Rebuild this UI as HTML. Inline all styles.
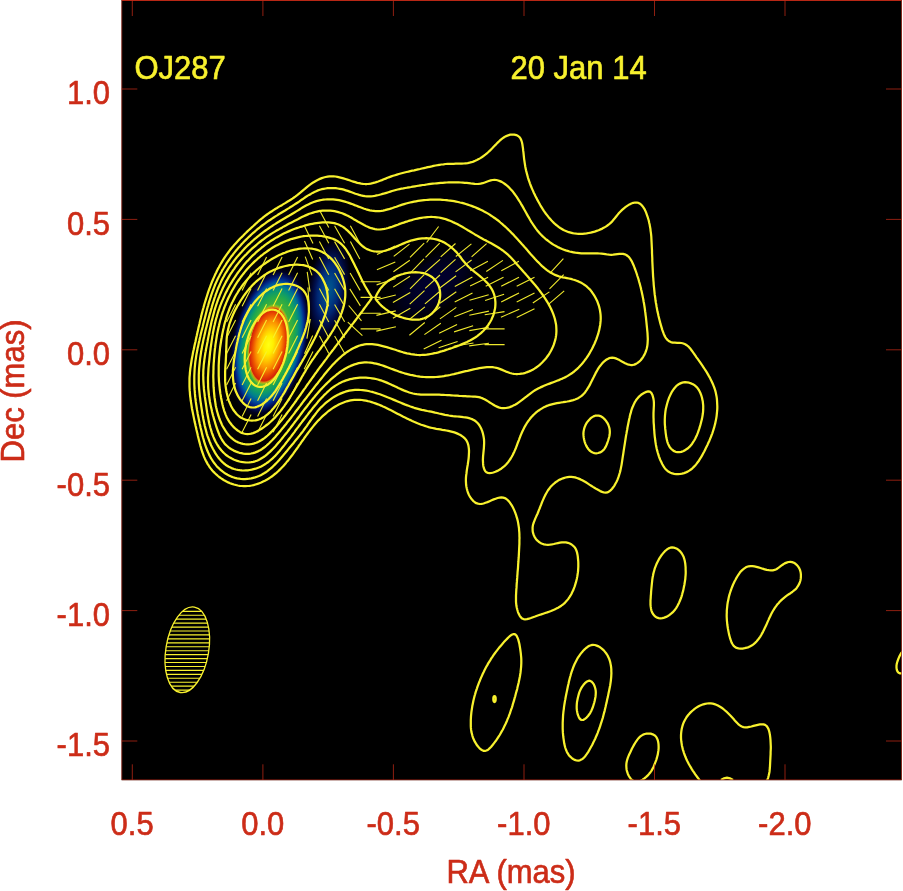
<!DOCTYPE html>
<html lang="en"><head><meta charset="utf-8"><title>OJ287 20 Jan 14</title>
<style>html,body{margin:0;padding:0;background:#fff}svg{display:block}text{font-family:"Liberation Sans",Arial,Helvetica,sans-serif;font-size:31px;stroke-width:0.6px;stroke-linejoin:round}</style></head><body>
<svg width="903" height="891" viewBox="0 0 903 891">
<defs>
<clipPath id="fr"><rect x="121.8" y="0" width="779.7" height="779.8"/></clipPath>
<radialGradient id="gco" gradientUnits="userSpaceOnUse" cx="0" cy="0" r="41">
<stop offset="0.507" stop-color="#3cb03c"/>
<stop offset="0.585" stop-color="#22a84c"/>
<stop offset="0.646" stop-color="#0c9a6c"/>
<stop offset="0.707" stop-color="#00808c"/>
<stop offset="0.756" stop-color="#005a9c"/>
<stop offset="0.805" stop-color="#002c8c"/>
<stop offset="0.854" stop-color="#000e58"/>
<stop offset="0.902" stop-color="#000020"/>
<stop offset="1.000" stop-color="#000000" stop-opacity="0"/>
</radialGradient>
<radialGradient id="gci" gradientUnits="userSpaceOnUse" cx="0" cy="0" r="41">
<stop offset="0.000" stop-color="#ffff14"/>
<stop offset="0.110" stop-color="#fff000"/>
<stop offset="0.195" stop-color="#ffc800"/>
<stop offset="0.293" stop-color="#fb9000"/>
<stop offset="0.378" stop-color="#ea4e00"/>
<stop offset="0.446" stop-color="#d42108"/>
<stop offset="0.463" stop-color="#d88c10"/>
<stop offset="0.483" stop-color="#86c020"/>
<stop offset="0.507" stop-color="#3cb03c"/>
<stop offset="0.527" stop-color="#3cb03c" stop-opacity="0"/>
</radialGradient>
<radialGradient id="gb" gradientUnits="userSpaceOnUse" cx="0" cy="0" r="22">
<stop offset="0.000" stop-color="#00588e"/>
<stop offset="0.159" stop-color="#004c8a"/>
<stop offset="0.318" stop-color="#003a82"/>
<stop offset="0.477" stop-color="#002672"/>
<stop offset="0.614" stop-color="#001252"/>
<stop offset="0.750" stop-color="#000630"/>
<stop offset="0.886" stop-color="#000010"/>
<stop offset="1.000" stop-color="#000000" stop-opacity="0"/>
</radialGradient>
<radialGradient id="gj" gradientUnits="userSpaceOnUse" cx="0" cy="0" r="30">
<stop offset="0.000" stop-color="#000030" stop-opacity="1"/>
<stop offset="0.333" stop-color="#00002a" stop-opacity="1"/>
<stop offset="0.667" stop-color="#000016" stop-opacity="1"/>
<stop offset="1.000" stop-color="#000000" stop-opacity="0"/>
</radialGradient>
</defs>
<rect x="0" y="0" width="903" height="891" fill="#fff"/>
<rect x="121.5" y="0" width="780.3" height="780.2" fill="#000"/>
<g clip-path="url(#fr)">
<g transform="translate(434,284) rotate(-36) scale(2.0,1.0)"><circle r="30" fill="url(#gj)"/></g>
<g transform="translate(328.5,290) rotate(8) scale(1.0,2.45)"><circle r="22" fill="url(#gb)"/></g>
<g transform="translate(269.8,342.3) rotate(11.5) scale(0.98,1.94)"><circle r="41" fill="url(#gco)"/></g>
<g transform="translate(268.6,344.8) rotate(10) scale(1,2.0)"><circle r="41" fill="url(#gci)"/></g>
<g stroke="#f8f12e" stroke-width="1.12" stroke-opacity="0.96" fill="none">
<path d="M226.6 322.1L235.6 304.2M226.6 337.8L235.6 320.0M226.6 353.5L235.6 335.7M226.6 369.3L235.6 351.4M226.6 385.0L235.6 367.2M226.6 400.7L235.6 382.9M242.1 290.6L251.1 272.8M242.1 306.3L251.1 288.5M242.1 322.1L251.1 304.2M242.1 337.8L251.1 320.0M242.1 353.5L251.1 335.7M242.1 369.3L251.1 351.4M242.1 385.0L251.1 367.2M242.1 400.7L251.1 382.9M242.1 416.5L251.1 398.6M242.1 432.2L251.1 414.4M257.6 274.9L266.6 257.1M257.6 290.6L266.6 272.8M257.6 306.3L266.6 288.5M257.6 322.1L266.6 304.2M257.6 337.8L266.6 320.0M257.6 353.5L266.6 335.7M257.6 369.3L266.6 351.4M257.6 385.0L266.6 367.2M257.6 400.7L266.6 382.9M257.6 416.5L266.6 398.6M257.6 432.2L266.6 414.4M273.1 274.9L282.1 257.1M273.1 290.6L282.1 272.8M273.1 306.3L282.1 288.5M273.1 322.1L282.1 304.2M273.1 337.8L282.1 320.0M273.1 353.5L282.1 335.7M273.1 369.3L282.1 351.4M273.1 385.0L282.1 367.2M273.1 400.7L282.1 382.9M273.1 416.5L282.1 398.6M273.1 432.2L282.1 414.4M288.6 274.9L297.6 257.1M288.6 290.6L297.6 272.8M288.6 306.3L297.6 288.5M288.6 322.1L297.6 304.2M288.6 337.8L297.6 320.0M288.6 353.5L297.6 335.7M288.6 369.3L297.6 351.4M288.6 385.0L297.6 367.2M288.6 400.7L297.6 382.9M313.0 243.5L304.2 225.5M312.7 259.4L304.5 241.1M312.0 275.4L305.2 256.6M310.0 291.6L307.2 271.8M309.3 307.4L307.9 287.5M308.9 323.2L308.3 303.2M306.9 338.7L310.3 319.0M304.5 353.8L312.7 335.5M304.2 369.3L313.0 351.4M328.8 227.6L319.4 210.0M328.8 243.3L319.4 225.7M328.8 259.1L319.4 241.4M328.8 274.8L319.4 257.1M328.8 290.5L319.4 272.9M328.8 306.3L319.4 288.6M328.8 322.0L319.4 304.3M328.8 337.7L319.4 320.1M328.8 353.4L319.4 335.8M344.6 243.2L334.6 225.8M344.6 258.9L334.6 241.6M344.6 274.6L334.6 257.3M344.6 290.4L334.6 273.0M344.6 306.1L334.6 288.8M344.6 321.8L334.6 304.5M344.6 337.6L334.6 320.2M344.6 353.3L334.6 336.0M359.8 243.3L350.4 225.7M359.8 259.1L350.4 241.4M359.9 274.7L350.3 257.2M360.1 290.4L350.1 273.0M360.4 305.9L349.8 288.9M361.5 320.8L348.7 305.5M362.4 335.7L347.8 322.1M360.6 281.7L380.6 281.7M360.6 297.4L380.6 297.4M360.6 313.2L380.6 313.2M360.6 328.9L380.6 328.9M426.6 242.5L438.6 226.5M377.0 254.5L395.2 246.0M393.7 256.4L409.5 244.1M410.0 257.3L424.2 243.2M425.5 257.3L439.7 243.2M440.7 256.9L455.5 243.5M455.8 256.5L471.4 243.9M471.6 256.8L486.6 243.7M376.9 269.8L395.3 262.1M393.4 271.7L409.8 260.2M410.2 273.2L424.0 258.8M425.1 272.5L440.1 259.4M440.7 272.7L455.5 259.3M455.6 271.9L471.6 260.0M470.3 270.7L487.9 261.3M486.3 271.5L502.9 260.4M501.3 270.7L518.9 261.3M549.8 273.3L563.4 258.7M376.6 284.9L395.6 278.5M393.2 287.1L410.0 276.3M410.0 288.8L424.2 274.6M425.2 288.4L440.0 275.0M440.1 287.7L456.1 275.7M454.8 286.4L472.4 277.0M470.1 286.1L488.1 277.3M485.7 286.2L503.5 277.2M501.2 286.2L519.0 277.2M516.7 286.2L534.5 277.2M549.5 288.8L563.7 274.6M376.4 299.8L395.8 295.0M392.9 302.4L410.3 292.4M409.7 304.1L424.5 290.7M424.9 303.9L440.3 291.0M439.9 303.2L456.3 291.7M454.7 301.9L472.5 293.0M469.5 300.2L488.7 294.7M485.1 300.5L504.1 294.3M501.2 301.9L519.0 293.0M516.7 301.9L534.5 293.0M532.8 303.0L549.4 291.9M549.0 303.9L564.2 290.9M376.4 315.4L395.8 310.9M392.9 318.2L410.3 308.2M409.3 319.5L424.9 306.9M424.9 319.6L440.3 306.7M439.9 318.9L456.3 307.4M454.3 316.8L472.9 309.5M469.3 315.2L488.9 311.1M484.7 314.7L504.5 311.6M500.9 317.2L519.3 309.2M516.7 317.6L534.5 308.7M376.3 331.1L395.9 326.7M409.4 335.3L424.8 322.5M424.4 334.6L440.8 323.2M439.1 333.2L457.1 324.6M454.1 331.9L473.1 325.8M469.3 330.6L488.9 327.2M484.6 328.9L504.6 328.9M423.7 349.1L441.5 340.2M438.6 347.7L457.6 341.5M453.7 346.3L473.5 343.0M469.2 345.9L489.0 343.3M484.6 344.6L504.6 344.6"/>
</g>
<g stroke="#f8f12e" stroke-width="2.25" fill="none" stroke-linejoin="round">
<path d="M270.2 212.3L271.9 211.2L273.5 210.1L275.2 209.0L277.0 208.0L278.7 206.9L280.4 205.9L282.2 204.9L283.9 203.9L285.6 202.9L287.3 201.8L289.0 200.8L290.7 199.7L292.4 198.6L294.0 197.5L295.6 196.4L297.2 195.2L298.8 193.9L300.3 192.7L301.8 191.4L303.3 190.1L304.8 188.9L306.3 187.6L307.8 186.3L309.4 185.1L311.1 183.9L312.7 182.8L314.5 181.7L316.2 180.7L318.1 179.7L319.9 178.9L321.8 178.1L323.7 177.5L325.6 177.0L327.6 176.6L329.5 176.4L331.5 176.3L333.5 176.3L335.4 176.5L337.4 176.9L339.4 177.3L341.4 177.8L343.4 178.4L345.4 179.0L347.4 179.6L349.4 180.3L351.4 181.0L353.3 181.6L355.3 182.2L357.3 182.8L359.2 183.2L361.2 183.6L363.1 183.9L365.0 184.0L366.9 184.0L368.8 183.9L370.7 183.6L372.6 183.2L374.5 182.7L376.3 182.1L378.2 181.5L380.1 180.8L381.9 180.1L383.8 179.3L385.6 178.6L387.5 177.8L389.4 177.1L391.3 176.4L393.1 175.8L395.0 175.2L396.9 174.6L398.8 174.0L400.7 173.5L402.6 173.0L404.5 172.5L406.5 172.0L408.4 171.6L410.3 171.1L412.2 170.7L414.2 170.3L416.1 169.8L418.1 169.4L420.0 169.0L421.9 168.5L423.9 168.1L425.8 167.7L427.8 167.2L429.7 166.8L431.7 166.4L433.6 165.9L435.6 165.5L437.6 165.2L439.6 164.8L441.5 164.5L443.5 164.3L445.5 164.0L447.6 163.9L449.6 163.8L451.6 163.8L453.7 163.8L455.7 163.7L457.7 163.7L459.8 163.7L461.8 163.7L463.8 163.5L465.7 163.3L467.7 163.1L469.6 162.7L471.5 162.2L473.3 161.6L475.2 160.8L476.9 160.0L478.7 159.1L480.4 158.1L482.1 157.0L483.7 155.8L485.3 154.6L486.9 153.3L488.4 152.0L489.9 150.6L491.3 149.2L492.7 147.8L494.1 146.3L495.5 144.9L496.8 143.5L498.2 142.1L499.7 140.7L501.2 139.4L502.8 138.2L504.5 137.0L506.3 136.1L508.2 135.3L510.2 134.7L512.2 134.5L514.3 134.6L516.3 135.1L518.1 136.0L519.5 137.2L520.6 138.7L521.4 140.5L522.0 142.5L522.4 144.5L522.7 146.6L523.0 148.7L523.2 150.7L523.5 152.8L523.7 154.8L523.9 156.8L524.1 158.8L524.4 160.8L524.7 162.8L525.0 164.8L525.3 166.7L525.7 168.7L526.1 170.6L526.6 172.5L527.1 174.4L527.6 176.2L528.1 178.1L528.7 180.0L529.4 181.8L530.0 183.6L530.7 185.5L531.4 187.3L532.2 189.1L533.0 190.9L533.8 192.7L534.7 194.5L535.5 196.3L536.5 198.1L537.4 199.9L538.4 201.7L539.4 203.5L540.4 205.3L541.5 207.1L542.6 208.9L543.7 210.6L544.9 212.3L546.1 214.0L547.4 215.6L548.6 217.2L550.0 218.8L551.3 220.3L552.7 221.7L554.1 223.1L555.6 224.5L557.1 225.7L558.6 226.9L560.2 228.0L561.9 229.0L563.5 230.0L565.3 230.8L567.0 231.5L568.8 232.2L570.7 232.7L572.6 233.2L574.5 233.5L576.5 233.7L578.5 233.8L580.5 233.8L582.5 233.8L584.6 233.6L586.6 233.4L588.7 233.0L590.7 232.6L592.7 232.1L594.7 231.6L596.7 230.9L598.6 230.2L600.5 229.4L602.3 228.6L604.1 227.6L605.8 226.6L607.4 225.5L608.9 224.4L610.4 223.2L611.7 221.9L612.9 220.5L614.1 219.1L615.2 217.7L616.4 216.2L617.7 214.6L619.0 213.0L620.5 211.5L622.1 209.9L623.9 208.3L625.7 206.9L627.6 205.6L629.5 204.4L631.4 203.5L633.3 202.8L635.1 202.5L636.8 202.5L638.4 202.9L639.8 203.6L641.1 204.6L642.3 205.9L643.4 207.4L644.5 209.1L645.4 210.9L646.2 212.9L646.9 214.8L647.6 216.8L648.2 218.8L648.8 220.8L649.2 222.8L649.7 224.8L650.0 226.8L650.4 228.8L650.6 230.8L650.9 232.8L651.1 234.7L651.3 236.7L651.4 238.7L651.5 240.7L651.6 242.7L651.7 244.7L651.8 246.7L651.9 248.7L652.0 250.7L652.0 252.7L652.1 254.7L652.2 256.7L652.3 258.7L652.3 260.7L652.4 262.7L652.5 264.7L652.6 266.7L652.7 268.6L652.8 270.6L652.9 272.6L653.0 274.6L653.1 276.6L653.3 278.5L653.4 280.5L653.6 282.5L653.7 284.5L653.9 286.5L654.1 288.4L654.3 290.4L654.5 292.4L654.7 294.4L655.0 296.3L655.3 298.3L655.5 300.3L655.8 302.2L656.2 304.2L656.5 306.2L656.9 308.2L657.2 310.1L657.6 312.1L658.1 314.1L658.5 316.0L659.0 318.0L659.5 320.0L660.0 321.9L660.5 323.9L661.1 325.9L661.7 327.9L662.3 329.8L663.0 331.8L663.7 333.7L664.5 335.6L665.4 337.3L666.5 338.8L667.7 340.2L669.2 341.3L670.8 342.1L672.7 342.6L674.9 342.7L677.1 342.8L679.3 342.8L681.5 343.0L683.4 343.5L685.2 344.2L686.7 345.2L688.2 346.3L689.5 347.7L690.7 349.1L691.9 350.7L693.1 352.3L694.2 354.0L695.4 355.6L696.5 357.3L697.7 358.9L698.9 360.6L700.0 362.2L701.2 363.9L702.4 365.6L703.5 367.3L704.6 369.0L705.7 370.7L706.8 372.4L707.8 374.1L708.8 375.9L709.8 377.6L710.7 379.4L711.6 381.2L712.4 383.0L713.2 384.8L713.9 386.6L714.6 388.5L715.2 390.4L715.7 392.3L716.1 394.2L716.5 396.2L716.8 398.2L717.0 400.1L717.1 402.1L717.2 404.1L717.3 406.1L717.3 408.1L717.2 410.1L717.0 412.1L716.8 414.1L716.6 416.1L716.3 418.1L715.9 420.1L715.5 422.0L715.1 423.9L714.6 425.8L714.1 427.7L713.5 429.6L712.9 431.5L712.3 433.3L711.6 435.2L710.9 437.0L710.1 438.9L709.4 440.7L708.5 442.5L707.7 444.4L706.8 446.2L705.9 448.0L705.0 449.9L704.1 451.7L703.1 453.5L702.1 455.4L701.1 457.2L700.0 458.9L698.9 460.7L697.7 462.3L696.5 463.9L695.2 465.5L693.8 466.9L692.4 468.3L690.9 469.5L689.3 470.6L687.7 471.6L685.9 472.4L684.1 473.1L682.1 473.6L680.2 474.0L678.2 474.1L676.2 474.1L674.2 473.8L672.3 473.4L670.5 472.7L668.7 471.8L667.2 470.6L665.7 469.2L664.4 467.6L663.3 465.9L662.2 464.0L661.3 462.1L660.4 460.2L659.6 458.3L658.9 456.3L658.3 454.4L657.7 452.5L657.2 450.6L656.7 448.7L656.3 446.7L655.9 444.8L655.6 442.9L655.3 441.0L655.1 439.0L654.8 437.1L654.6 435.1L654.4 433.1L654.3 431.2L654.1 429.2L654.0 427.2L653.9 425.1L653.7 423.1L653.6 421.1L653.6 419.1L653.5 417.1L653.5 415.1L653.5 413.1L653.6 411.1L653.7 409.1L653.8 407.2L653.9 405.2L653.9 403.3L653.8 401.2L653.5 399.1L653.0 396.9L652.3 394.7L651.3 392.8L649.9 391.6L648.2 391.4L646.3 391.9L644.4 392.7L642.7 393.7L641.1 394.8L639.6 396.1L638.3 397.4L637.0 398.9L635.9 400.5L634.9 402.1L634.0 403.9L633.2 405.7L632.4 407.5L631.7 409.4L631.1 411.4L630.6 413.4L630.0 415.4L629.6 417.4L629.1 419.5L628.7 421.5L628.3 423.5L627.9 425.5L627.5 427.5L627.2 429.5L626.8 431.5L626.5 433.4L626.1 435.4L625.8 437.3L625.5 439.2L625.2 441.2L624.9 443.1L624.6 445.0L624.3 446.9L624.0 448.9L623.7 450.8L623.4 452.8L623.1 454.7L622.8 456.7L622.5 458.6L622.2 460.6L621.9 462.6L621.6 464.6L621.2 466.6L620.8 468.6L620.4 470.6L619.9 472.5L619.3 474.5L618.7 476.4L618.0 478.3L617.3 480.2L616.4 482.0L615.4 483.8L614.4 485.6L613.2 487.3L611.9 489.0L610.5 490.4L609.0 491.6L607.4 492.4L605.7 492.7L603.9 492.5L602.1 491.9L600.2 491.1L598.4 490.1L596.6 489.1L594.8 488.0L593.0 486.9L591.2 485.7L589.4 484.6L587.6 483.4L585.9 482.3L584.1 481.3L582.3 480.3L580.5 479.4L578.7 478.6L576.9 478.0L575.1 477.4L573.2 477.1L571.3 476.9L569.4 476.9L567.5 477.1L565.6 477.5L563.6 478.1L561.8 478.8L559.9 479.6L558.1 480.6L556.4 481.7L554.7 483.0L553.2 484.3L551.7 485.7L550.4 487.1L549.2 488.7L548.0 490.3L547.0 492.0L546.0 493.7L545.1 495.4L544.2 497.2L543.4 499.1L542.6 500.9L541.8 502.8L541.1 504.7L540.3 506.6L539.6 508.5L538.8 510.4L538.1 512.3L537.3 514.2L536.4 516.1L535.6 517.9L534.8 519.8L534.1 521.6L533.4 523.5L532.9 525.3L532.6 527.3L532.6 529.2L532.7 531.2L533.1 533.2L533.8 535.2L534.7 537.1L535.9 538.9L537.2 540.4L538.7 541.8L540.4 542.9L542.2 543.8L544.0 544.4L545.9 544.7L547.9 544.8L549.8 544.7L551.8 544.4L553.8 544.0L555.9 543.5L557.9 543.1L559.9 542.7L561.9 542.4L563.9 542.3L565.9 542.4L567.9 542.8L569.8 543.5L571.6 544.5L573.2 545.8L574.6 547.2L575.7 548.9L576.5 550.8L577.1 552.7L577.5 554.7L577.8 556.7L578.0 558.8L578.2 560.8L578.3 562.7L578.3 564.7L578.3 566.6L578.2 568.5L578.1 570.5L577.9 572.4L577.6 574.4L577.3 576.4L576.9 578.4L576.4 580.4L575.9 582.4L575.3 584.4L574.7 586.4L573.9 588.4L573.2 590.3L572.3 592.1L571.4 594.0L570.4 595.7L569.3 597.4L568.1 599.1L566.9 600.6L565.6 602.0L564.3 603.4L562.8 604.6L561.3 605.7L559.7 606.8L558.1 607.7L556.4 608.6L554.6 609.5L552.8 610.2L551.0 611.0L549.1 611.7L547.2 612.4L545.2 613.0L543.2 613.7L541.2 614.4L539.2 615.0L537.1 615.7L535.1 616.5L533.0 617.2L530.9 618.0L528.9 618.7L527.0 619.2L525.1 619.3L523.5 619.1L522.0 618.4L520.7 617.2L519.6 615.6L518.7 613.8L517.9 611.8L517.3 609.8L516.8 607.8L516.4 605.8L516.2 603.8L516.0 601.8L516.0 599.8L516.0 597.9L516.0 595.9L516.1 593.9L516.2 591.9L516.3 589.9L516.5 587.9L516.6 585.9L516.7 583.9L516.9 581.9L517.0 579.9L517.2 577.9L517.3 575.9L517.5 573.8L517.6 571.8L517.8 569.8L518.0 567.8L518.1 565.8L518.2 563.8L518.4 561.7L518.5 559.7L518.7 557.7L518.8 555.7L518.9 553.7L519.0 551.7L519.1 549.8L519.2 547.8L519.3 545.8L519.4 543.9L519.4 541.9L519.4 540.0L519.5 538.0L519.4 536.1L519.4 534.1L519.3 532.2L519.1 530.3L519.0 528.4L518.7 526.4L518.4 524.5L518.1 522.6L517.7 520.6L517.2 518.7L516.6 516.8L516.0 514.8L515.3 512.9L514.5 510.9L513.6 508.9L512.7 507.0L511.6 505.1L510.4 503.3L509.2 501.6L507.8 500.2L506.4 499.0L504.8 498.1L503.2 497.6L501.4 497.4L499.6 497.6L497.6 498.0L495.7 498.7L493.7 499.4L491.6 500.3L489.6 501.2L487.5 502.1L485.5 502.8L483.6 503.5L481.6 503.8L479.8 504.0L478.0 503.7L476.3 503.2L474.8 502.2L473.3 501.1L472.0 499.6L470.8 498.0L469.7 496.3L468.7 494.4L467.9 492.5L467.3 490.5L466.8 488.6L466.4 486.7L466.1 484.8L466.0 482.9L465.9 481.0L465.9 479.1L466.0 477.1L466.2 475.2L466.5 473.2L466.7 471.2L467.0 469.2L467.3 467.1L467.7 465.0L468.0 462.9L468.3 460.8L468.6 458.6L468.8 456.4L468.9 454.3L469.0 452.2L469.0 450.1L468.8 448.1L468.5 446.1L468.1 444.3L467.5 442.5L466.7 440.9L465.7 439.4L464.5 438.1L463.1 436.9L461.6 435.8L459.9 434.8L458.1 433.9L456.3 433.1L454.4 432.4L452.4 431.8L450.4 431.3L448.4 430.9L446.4 430.5L444.3 430.1L442.3 429.8L440.3 429.4L438.3 429.1L436.3 428.8L434.3 428.4L432.4 428.0L430.5 427.6L428.6 427.1L426.7 426.5L424.8 425.9L423.0 425.3L421.2 424.7L419.3 424.0L417.5 423.3L415.7 422.5L414.0 421.8L412.2 421.0L410.4 420.1L408.6 419.3L406.8 418.4L405.1 417.6L403.3 416.7L401.5 415.7L399.7 414.8L397.9 413.9L396.0 412.9L394.2 412.0L392.4 411.0L390.5 410.1L388.7 409.2L386.8 408.2L384.9 407.3L383.0 406.5L381.1 405.6L379.2 404.8L377.3 404.1L375.4 403.4L373.5 402.7L371.6 402.1L369.7 401.5L367.8 401.1L365.9 400.6L363.9 400.3L362.0 400.0L360.1 399.9L358.2 399.8L356.3 399.8L354.3 399.9L352.4 400.1L350.5 400.4L348.6 400.8L346.7 401.3L344.8 402.0L343.0 402.7L341.1 403.5L339.3 404.3L337.5 405.3L335.7 406.2L334.0 407.3L332.3 408.4L330.6 409.6L329.0 410.7L327.4 412.0L325.9 413.3L324.4 414.6L322.9 415.9L321.5 417.3L320.1 418.7L318.7 420.1L317.3 421.6L316.0 423.0L314.7 424.5L313.4 426.1L312.2 427.6L310.9 429.2L309.7 430.8L308.5 432.4L307.3 434.0L306.1 435.6L304.9 437.2L303.8 438.9L302.6 440.5L301.4 442.1L300.3 443.8L299.1 445.4L298.0 447.1L296.8 448.7L295.6 450.3L294.5 451.9L293.3 453.6L292.1 455.2L290.9 456.7L289.7 458.3L288.5 459.9L287.2 461.4L286.0 462.9L284.7 464.4L283.4 465.9L282.1 467.3L280.7 468.7L279.3 470.1L277.9 471.5L276.4 472.8L274.9 474.0L273.3 475.3L271.8 476.5L270.1 477.6L268.4 478.7L266.7 479.7L264.9 480.7L263.1 481.6L261.2 482.5L259.4 483.2L257.5 483.9L255.5 484.5L253.6 485.1L251.6 485.5L249.6 485.8L247.7 486.0L245.7 486.1L243.7 486.1L241.7 486.0L239.7 485.8L237.8 485.5L235.8 485.0L233.9 484.5L232.0 483.9L230.1 483.2L228.2 482.4L226.4 481.5L224.6 480.6L222.9 479.5L221.2 478.4L219.6 477.3L218.0 476.0L216.5 474.7L215.0 473.3L213.6 471.9L212.3 470.5L211.0 468.9L209.8 467.4L208.8 465.7L207.7 464.1L206.8 462.4L205.9 460.7L205.0 458.9L204.2 457.1L203.5 455.3L202.8 453.4L202.1 451.5L201.5 449.7L201.0 447.7L200.4 445.8L199.9 443.8L199.4 441.9L198.9 439.9L198.4 437.9L197.9 436.0L197.5 434.0L197.0 432.0L196.5 430.0L196.1 428.0L195.6 426.0L195.2 424.0L194.7 422.1L194.3 420.1L193.9 418.1L193.5 416.1L193.1 414.1L192.7 412.1L192.3 410.2L191.9 408.2L191.6 406.2L191.3 404.2L191.0 402.2L190.7 400.3L190.5 398.3L190.2 396.3L190.0 394.3L189.9 392.4L189.7 390.4L189.6 388.4L189.5 386.5L189.5 384.5L189.5 382.5L189.5 380.6L189.5 378.6L189.6 376.6L189.8 374.7L189.9 372.7L190.1 370.8L190.3 368.8L190.6 366.9L190.9 364.9L191.2 363.0L191.5 361.0L191.8 359.0L192.2 357.1L192.6 355.1L192.9 353.2L193.3 351.2L193.8 349.3L194.2 347.3L194.6 345.3L195.0 343.4L195.5 341.4L195.9 339.5L196.3 337.5L196.8 335.5L197.2 333.6L197.7 331.6L198.1 329.6L198.5 327.6L199.0 325.7L199.5 323.7L199.9 321.7L200.4 319.8L200.9 317.8L201.3 315.8L201.8 313.9L202.3 311.9L202.8 310.0L203.4 308.0L203.9 306.1L204.4 304.2L205.0 302.2L205.6 300.3L206.2 298.4L206.8 296.5L207.4 294.6L208.0 292.7L208.6 290.8L209.3 288.9L210.0 287.1L210.7 285.2L211.4 283.3L212.1 281.5L212.9 279.7L213.7 277.9L214.5 276.1L215.3 274.3L216.2 272.5L217.0 270.7L217.9 268.9L218.9 267.2L219.8 265.5L220.8 263.8L221.8 262.1L222.8 260.4L223.9 258.7L224.9 257.1L226.1 255.4L227.2 253.8L228.4 252.2L229.6 250.6L230.8 249.0L232.1 247.5L233.4 246.0L234.7 244.4L236.1 242.9L237.4 241.5L238.8 240.0L240.2 238.5L241.7 237.1L243.1 235.7L244.5 234.2L246.0 232.8L247.4 231.4L248.9 230.0L250.4 228.7L251.8 227.3L253.3 226.0L254.8 224.6L256.2 223.3L257.7 222.0L259.2 220.7L260.7 219.4L262.3 218.2L263.8 216.9L265.4 215.7L267.0 214.5L268.6 213.4Z"/>
<path d="M270.4 219.7L272.0 218.6L273.7 217.5L275.4 216.4L277.1 215.4L278.7 214.3L280.4 213.3L282.1 212.2L283.8 211.2L285.5 210.2L287.2 209.1L288.9 208.1L290.6 207.0L292.3 206.0L294.0 204.9L295.7 203.8L297.4 202.7L299.1 201.6L300.7 200.4L302.4 199.3L304.1 198.1L305.7 197.0L307.4 195.9L309.1 194.9L310.9 193.9L312.6 192.9L314.4 192.0L316.2 191.2L318.0 190.4L319.8 189.8L321.7 189.2L323.7 188.8L325.6 188.5L327.6 188.2L329.6 188.1L331.7 188.0L333.7 188.1L335.8 188.2L337.8 188.5L339.8 188.8L341.8 189.2L343.8 189.7L345.8 190.3L347.8 190.9L349.7 191.6L351.6 192.3L353.5 193.0L355.4 193.7L357.3 194.3L359.2 194.9L361.1 195.4L363.0 195.8L365.0 196.2L366.9 196.3L368.8 196.4L370.8 196.3L372.8 196.1L374.7 195.8L376.7 195.4L378.7 195.0L380.6 194.5L382.6 193.9L384.5 193.4L386.5 192.8L388.4 192.2L390.3 191.6L392.1 191.0L394.0 190.5L395.8 190.0L397.7 189.5L399.6 189.1L401.4 188.7L403.3 188.4L405.2 188.0L407.1 187.7L409.1 187.3L411.0 187.0L412.9 186.6L414.9 186.3L416.8 186.0L418.8 185.7L420.8 185.3L422.7 185.0L424.7 184.8L426.7 184.5L428.7 184.2L430.7 183.9L432.7 183.7L434.7 183.5L436.7 183.3L438.7 183.1L440.7 182.9L442.7 182.8L444.7 182.6L446.7 182.5L448.7 182.4L450.8 182.4L452.8 182.4L454.8 182.4L456.8 182.4L458.8 182.4L460.8 182.5L462.8 182.6L464.8 182.8L466.8 182.9L468.7 183.1L470.7 183.4L472.7 183.6L474.7 183.9L476.7 184.0L478.6 183.9L480.6 183.7L482.7 183.2L484.7 182.5L486.7 181.7L488.7 181.0L490.7 180.4L492.6 180.0L494.5 179.9L496.4 180.0L498.2 180.5L499.9 181.1L501.7 181.9L503.3 182.9L504.9 184.0L506.4 185.2L507.9 186.4L509.3 187.8L510.6 189.2L511.9 190.6L513.2 192.1L514.4 193.7L515.6 195.3L516.7 196.9L517.8 198.6L518.9 200.3L520.0 202.0L521.0 203.8L522.1 205.6L523.1 207.4L524.1 209.2L525.1 211.0L526.1 212.8L527.1 214.6L528.1 216.4L529.2 218.2L530.2 220.0L531.3 221.8L532.4 223.5L533.5 225.2L534.7 226.9L535.9 228.6L537.1 230.2L538.4 231.7L539.7 233.2L541.1 234.7L542.5 236.1L544.0 237.5L545.4 238.8L547.0 240.0L548.5 241.2L550.1 242.4L551.7 243.5L553.4 244.6L555.1 245.6L556.8 246.5L558.5 247.4L560.3 248.2L562.1 249.0L563.9 249.7L565.8 250.4L567.6 250.9L569.5 251.5L571.4 251.9L573.4 252.3L575.3 252.7L577.3 252.9L579.3 253.1L581.3 253.3L583.4 253.3L585.4 253.4L587.4 253.4L589.5 253.4L591.5 253.3L593.5 253.3L595.6 253.3L597.6 253.4L599.5 253.5L601.5 253.7L603.5 253.9L605.4 254.2L607.3 254.5L609.2 254.7L611.2 254.8L613.2 254.7L615.3 254.4L617.3 254.1L619.3 253.9L621.3 253.8L623.1 253.9L624.8 254.3L626.3 255.0L627.7 256.0L629.0 257.2L630.1 258.7L631.2 260.3L632.1 262.1L633.0 264.0L633.9 266.0L634.6 268.0L635.4 270.0L636.1 272.0L636.8 274.0L637.4 276.0L638.1 278.0L638.7 280.0L639.2 282.0L639.8 283.9L640.3 285.9L640.8 287.8L641.2 289.8L641.7 291.8L642.1 293.7L642.5 295.6L642.9 297.6L643.3 299.5L643.6 301.5L644.0 303.4L644.3 305.4L644.6 307.3L644.9 309.3L645.1 311.2L645.4 313.2L645.6 315.1L645.9 317.1L646.1 319.1L646.3 321.0L646.5 323.0L646.7 325.0L646.9 327.0L647.1 329.0L647.3 331.0L647.5 333.0L647.6 335.0L647.7 337.0L647.8 339.1L647.7 341.1L647.6 343.1L647.4 345.1L647.1 347.1L646.6 349.1L646.0 351.0L645.2 353.0L644.3 354.9L643.2 356.8L642.0 358.5L640.7 360.2L639.2 361.6L637.6 362.9L636.0 363.9L634.3 364.6L632.5 365.0L630.7 365.0L628.9 364.7L627.0 364.1L625.1 363.2L623.3 362.2L621.4 361.2L619.5 360.1L617.7 359.2L615.8 358.4L614.0 357.9L612.2 357.7L610.4 357.8L608.7 358.4L607.1 359.2L605.5 360.3L603.9 361.6L602.5 363.0L601.2 364.6L599.9 366.2L598.7 367.9L597.6 369.7L596.5 371.6L595.5 373.4L594.5 375.4L593.6 377.3L592.6 379.2L591.7 381.1L590.7 383.0L589.8 384.9L588.8 386.7L587.7 388.4L586.6 390.1L585.5 391.7L584.3 393.2L583.0 394.6L581.6 395.8L580.1 396.9L578.6 397.9L576.9 398.8L575.1 399.5L573.2 400.1L571.3 400.6L569.3 401.1L567.3 401.5L565.2 401.8L563.2 402.2L561.1 402.5L559.0 402.8L556.9 403.2L554.8 403.6L552.7 404.1L550.8 404.6L548.8 405.2L546.9 405.9L545.1 406.7L543.3 407.6L541.6 408.6L540.0 409.6L538.4 410.7L536.8 411.9L535.3 413.2L533.9 414.5L532.5 415.9L531.2 417.3L530.0 418.8L528.8 420.4L527.6 422.0L526.5 423.7L525.5 425.4L524.5 427.1L523.6 428.9L522.7 430.7L521.9 432.5L521.1 434.4L520.3 436.3L519.6 438.2L518.9 440.1L518.1 442.0L517.4 443.9L516.7 445.8L516.0 447.7L515.2 449.6L514.4 451.4L513.5 453.2L512.7 455.0L511.7 456.8L510.7 458.5L509.6 460.1L508.5 461.7L507.2 463.2L505.9 464.7L504.4 466.1L502.8 467.4L501.2 468.7L499.4 469.8L497.4 470.9L495.4 471.8L493.4 472.5L491.4 473.0L489.6 473.1L487.9 472.9L486.4 472.3L485.3 471.2L484.4 469.7L483.8 467.9L483.3 465.9L483.1 463.9L483.0 461.9L482.9 459.9L483.0 457.9L483.1 455.9L483.3 453.8L483.5 451.8L483.7 449.8L483.9 447.8L484.0 445.7L484.1 443.6L484.1 441.5L484.0 439.4L483.7 437.3L483.3 435.2L482.8 433.1L482.2 431.1L481.4 429.1L480.5 427.3L479.5 425.5L478.4 423.9L477.1 422.5L475.7 421.3L474.2 420.3L472.6 419.4L470.9 418.7L469.1 418.1L467.2 417.7L465.3 417.3L463.3 417.1L461.3 416.8L459.2 416.6L457.1 416.5L455.1 416.3L453.0 416.1L450.9 415.8L448.9 415.5L446.9 415.1L444.9 414.8L442.9 414.3L440.9 413.9L439.0 413.5L437.0 413.0L435.1 412.6L433.1 412.1L431.2 411.7L429.3 411.3L427.4 411.0L425.5 410.6L423.6 410.2L421.7 409.8L419.8 409.3L418.0 408.8L416.1 408.3L414.2 407.8L412.3 407.1L410.4 406.5L408.5 405.8L406.6 405.1L404.7 404.4L402.8 403.6L400.9 402.8L399.0 402.0L397.1 401.2L395.2 400.4L393.3 399.6L391.4 398.8L389.4 398.0L387.5 397.3L385.6 396.5L383.7 395.7L381.8 395.0L379.9 394.3L378.0 393.7L376.1 393.1L374.1 392.5L372.2 391.9L370.3 391.5L368.4 391.0L366.5 390.7L364.6 390.4L362.7 390.1L360.7 390.0L358.8 389.9L356.9 389.9L355.0 389.9L353.1 390.1L351.2 390.4L349.2 390.7L347.3 391.2L345.4 391.7L343.5 392.4L341.6 393.1L339.7 393.9L337.9 394.8L336.1 395.8L334.3 396.8L332.5 397.9L330.8 399.1L329.1 400.3L327.4 401.6L325.8 402.9L324.3 404.3L322.8 405.7L321.3 407.1L319.9 408.6L318.6 410.1L317.3 411.6L316.1 413.1L314.9 414.7L313.7 416.2L312.5 417.8L311.4 419.4L310.2 421.0L309.1 422.6L308.0 424.2L306.9 425.8L305.7 427.4L304.5 429.0L303.4 430.6L302.2 432.2L300.9 433.8L299.7 435.4L298.5 436.9L297.2 438.5L295.9 440.0L294.6 441.6L293.4 443.2L292.1 444.7L290.8 446.3L289.5 447.8L288.2 449.4L286.9 451.0L285.6 452.5L284.3 454.1L282.9 455.7L281.6 457.2L280.3 458.7L279.0 460.3L277.6 461.8L276.2 463.2L274.8 464.6L273.4 466.0L272.0 467.4L270.5 468.7L268.9 469.9L267.4 471.1L265.8 472.2L264.1 473.3L262.4 474.3L260.7 475.2L258.9 476.0L257.0 476.7L255.1 477.4L253.2 477.9L251.2 478.4L249.2 478.7L247.2 478.9L245.1 479.1L243.1 479.1L241.1 479.0L239.1 478.7L237.1 478.4L235.1 477.9L233.2 477.3L231.3 476.6L229.4 475.7L227.6 474.8L225.8 473.8L224.1 472.6L222.5 471.4L220.9 470.1L219.4 468.8L217.9 467.4L216.5 465.9L215.3 464.4L214.0 462.8L212.9 461.2L211.8 459.5L210.8 457.9L209.9 456.1L209.0 454.4L208.2 452.6L207.4 450.8L206.7 449.0L206.0 447.1L205.3 445.2L204.7 443.3L204.1 441.4L203.6 439.5L203.0 437.5L202.5 435.6L202.0 433.6L201.6 431.6L201.1 429.7L200.6 427.7L200.2 425.7L199.7 423.8L199.3 421.8L198.9 419.8L198.5 417.8L198.1 415.8L197.7 413.9L197.4 411.9L197.0 409.9L196.7 407.9L196.4 405.9L196.1 403.9L195.8 401.9L195.6 399.9L195.3 397.9L195.1 395.9L194.9 393.9L194.8 391.9L194.6 389.9L194.5 388.0L194.4 386.0L194.3 384.0L194.3 382.0L194.3 380.0L194.3 378.0L194.3 376.0L194.4 374.0L194.5 372.0L194.6 370.0L194.7 368.1L194.9 366.1L195.1 364.1L195.3 362.1L195.6 360.1L195.9 358.2L196.2 356.2L196.5 354.2L196.9 352.3L197.3 350.3L197.6 348.3L198.1 346.4L198.5 344.4L198.9 342.4L199.4 340.5L199.8 338.5L200.3 336.5L200.7 334.6L201.2 332.6L201.7 330.6L202.2 328.7L202.7 326.7L203.1 324.8L203.6 322.8L204.1 320.8L204.6 318.9L205.1 316.9L205.6 315.0L206.1 313.0L206.6 311.1L207.1 309.1L207.6 307.2L208.2 305.3L208.7 303.3L209.3 301.4L209.9 299.5L210.5 297.6L211.1 295.7L211.7 293.8L212.4 291.9L213.1 290.0L213.8 288.2L214.5 286.3L215.2 284.5L216.0 282.7L216.9 280.8L217.7 279.0L218.6 277.2L219.5 275.5L220.4 273.7L221.4 272.0L222.3 270.2L223.4 268.5L224.4 266.8L225.5 265.1L226.5 263.4L227.7 261.7L228.8 260.1L230.0 258.4L231.1 256.8L232.4 255.2L233.6 253.6L234.8 252.1L236.1 250.5L237.4 249.0L238.7 247.4L240.1 245.9L241.4 244.4L242.8 243.0L244.2 241.5L245.6 240.1L247.0 238.7L248.5 237.3L250.0 235.9L251.4 234.5L252.9 233.2L254.5 231.8L256.0 230.5L257.5 229.2L259.1 228.0L260.7 226.7L262.2 225.5L263.8 224.3L265.5 223.1L267.1 221.9L268.7 220.8Z"/>
<path d="M270.4 227.1L272.1 226.0L273.7 224.9L275.4 223.9L277.1 222.8L278.8 221.8L280.4 220.8L282.1 219.8L283.8 218.8L285.5 217.8L287.2 216.8L289.0 215.8L290.7 214.8L292.4 213.7L294.1 212.7L295.9 211.6L297.6 210.6L299.4 209.5L301.1 208.4L302.9 207.3L304.7 206.3L306.5 205.3L308.3 204.4L310.1 203.5L311.9 202.7L313.8 202.0L315.7 201.4L317.5 200.8L319.5 200.4L321.4 200.0L323.3 199.7L325.2 199.5L327.2 199.4L329.2 199.3L331.1 199.3L333.1 199.4L335.1 199.6L337.0 199.9L339.0 200.2L341.0 200.6L342.9 201.1L344.9 201.6L346.8 202.2L348.8 202.9L350.7 203.6L352.7 204.3L354.6 205.1L356.5 205.8L358.5 206.6L360.4 207.3L362.3 208.0L364.2 208.7L366.1 209.3L368.0 209.8L369.9 210.3L371.8 210.7L373.7 210.9L375.6 211.1L377.5 211.2L379.4 211.1L381.3 210.9L383.2 210.6L385.0 210.2L386.9 209.7L388.8 209.2L390.7 208.6L392.6 208.0L394.5 207.3L396.4 206.7L398.3 206.0L400.2 205.3L402.2 204.7L404.1 204.1L406.1 203.5L408.0 203.0L410.0 202.5L412.0 202.1L414.0 201.7L416.0 201.3L418.0 200.9L420.0 200.6L422.0 200.4L424.0 200.2L426.0 200.0L428.0 199.8L430.1 199.7L432.1 199.6L434.1 199.6L436.1 199.6L438.1 199.6L440.2 199.7L442.2 199.8L444.2 200.0L446.2 200.1L448.2 200.4L450.2 200.6L452.2 200.9L454.1 201.2L456.1 201.6L458.1 202.0L460.0 202.5L462.0 202.9L463.9 203.4L465.8 204.0L467.7 204.6L469.6 205.2L471.5 205.9L473.3 206.6L475.2 207.3L477.0 208.1L478.8 208.9L480.6 209.7L482.4 210.6L484.1 211.5L485.9 212.4L487.6 213.4L489.3 214.4L490.9 215.5L492.6 216.6L494.2 217.7L495.8 218.8L497.4 220.0L498.9 221.2L500.4 222.5L502.0 223.8L503.4 225.1L504.9 226.4L506.4 227.8L507.8 229.1L509.2 230.5L510.7 231.9L512.1 233.4L513.5 234.8L514.8 236.3L516.2 237.8L517.6 239.3L518.9 240.7L520.3 242.3L521.6 243.8L523.0 245.3L524.3 246.8L525.7 248.3L527.0 249.8L528.4 251.4L529.7 252.9L531.0 254.4L532.4 255.9L533.8 257.4L535.1 258.9L536.5 260.4L537.9 261.9L539.3 263.3L540.7 264.7L542.1 266.1L543.6 267.4L545.1 268.7L546.6 269.9L548.2 271.0L549.9 272.1L551.5 273.1L553.3 274.1L555.0 274.9L556.9 275.6L558.8 276.3L560.8 276.8L562.8 277.3L564.8 277.7L566.8 278.1L568.9 278.5L570.9 278.9L572.8 279.5L574.7 280.0L576.6 280.7L578.4 281.4L580.1 282.2L581.8 283.1L583.4 284.1L585.0 285.2L586.6 286.4L588.0 287.7L589.5 289.1L590.8 290.6L592.1 292.3L593.3 294.1L594.5 295.9L595.5 297.8L596.5 299.7L597.4 301.6L598.1 303.6L598.8 305.5L599.3 307.4L599.8 309.4L600.1 311.3L600.4 313.2L600.6 315.1L600.7 317.1L600.7 319.0L600.6 320.9L600.4 322.8L600.2 324.7L599.9 326.6L599.5 328.5L599.1 330.4L598.6 332.3L598.1 334.2L597.4 336.1L596.8 338.0L596.1 339.9L595.3 341.8L594.5 343.7L593.6 345.5L592.7 347.4L591.8 349.2L590.8 351.0L589.8 352.8L588.7 354.6L587.6 356.3L586.4 358.1L585.2 359.7L584.0 361.4L582.7 363.0L581.4 364.5L580.0 366.0L578.6 367.5L577.2 368.9L575.7 370.2L574.2 371.5L572.6 372.7L571.0 373.8L569.3 374.9L567.7 375.9L566.0 376.9L564.2 377.7L562.4 378.6L560.6 379.3L558.8 380.1L557.0 380.8L555.2 381.5L553.3 382.2L551.4 382.9L549.6 383.6L547.7 384.3L545.9 385.0L544.0 385.8L542.2 386.6L540.4 387.4L538.6 388.3L536.8 389.3L535.0 390.3L533.3 391.4L531.6 392.6L530.0 393.8L528.3 395.1L526.7 396.4L525.0 397.7L523.4 398.9L521.8 400.2L520.1 401.4L518.4 402.6L516.8 403.7L515.1 404.7L513.3 405.6L511.6 406.4L509.8 407.1L507.9 407.7L506.1 408.0L504.2 408.2L502.3 408.2L500.5 407.9L498.7 407.4L496.9 406.6L495.1 405.8L493.4 404.7L491.6 403.6L489.8 402.5L488.1 401.4L486.3 400.3L484.5 399.3L482.7 398.4L480.8 397.7L478.9 397.2L477.0 396.9L475.1 396.7L473.1 396.6L471.1 396.5L469.1 396.4L467.2 396.3L465.2 396.2L463.2 396.1L461.2 396.0L459.2 395.9L457.2 395.7L455.3 395.6L453.3 395.5L451.3 395.3L449.3 395.2L447.3 395.1L445.3 395.0L443.3 394.8L441.3 394.8L439.2 394.7L437.2 394.6L435.2 394.6L433.1 394.6L431.1 394.6L429.0 394.6L427.0 394.7L425.0 394.7L422.9 394.6L420.9 394.6L418.9 394.4L416.9 394.2L415.0 393.9L413.0 393.5L411.1 393.0L409.3 392.5L407.4 391.8L405.6 391.1L403.7 390.4L401.9 389.6L400.1 388.8L398.3 388.0L396.5 387.1L394.7 386.2L392.9 385.4L391.0 384.5L389.2 383.7L387.4 382.9L385.5 382.1L383.6 381.4L381.8 380.7L379.8 380.1L377.9 379.5L375.9 379.0L374.0 378.6L372.0 378.3L370.0 378.0L367.9 377.8L365.9 377.7L363.9 377.6L361.9 377.6L359.9 377.7L357.9 377.9L355.9 378.1L353.9 378.4L351.9 378.8L350.0 379.2L348.0 379.8L346.1 380.4L344.3 381.1L342.4 381.8L340.6 382.7L338.9 383.6L337.2 384.6L335.5 385.6L333.9 386.7L332.2 387.9L330.7 389.2L329.1 390.5L327.6 391.8L326.2 393.2L324.7 394.6L323.3 396.1L321.9 397.5L320.5 399.0L319.1 400.6L317.8 402.1L316.5 403.7L315.2 405.2L313.9 406.8L312.6 408.3L311.4 409.9L310.1 411.4L308.9 413.0L307.7 414.6L306.5 416.1L305.3 417.7L304.1 419.2L302.9 420.8L301.7 422.4L300.5 423.9L299.3 425.5L298.1 427.1L296.9 428.6L295.7 430.2L294.6 431.8L293.4 433.4L292.2 435.0L291.0 436.6L289.7 438.2L288.5 439.8L287.3 441.4L286.0 443.0L284.8 444.6L283.5 446.2L282.2 447.8L280.9 449.4L279.6 451.0L278.2 452.6L276.9 454.1L275.5 455.6L274.0 457.0L272.6 458.4L271.1 459.7L269.5 461.0L267.9 462.3L266.3 463.4L264.6 464.5L262.9 465.5L261.2 466.4L259.4 467.3L257.5 468.0L255.6 468.7L253.7 469.2L251.7 469.7L249.7 470.0L247.8 470.3L245.8 470.4L243.8 470.5L241.8 470.4L239.8 470.2L237.9 469.9L235.9 469.5L234.1 469.0L232.2 468.4L230.5 467.6L228.7 466.8L227.1 465.8L225.5 464.7L224.0 463.5L222.5 462.1L221.1 460.7L219.8 459.3L218.5 457.7L217.3 456.1L216.1 454.4L215.0 452.6L214.0 450.8L213.0 449.0L212.0 447.1L211.1 445.2L210.3 443.3L209.5 441.4L208.8 439.4L208.1 437.5L207.4 435.6L206.8 433.6L206.3 431.7L205.8 429.8L205.3 427.9L204.8 426.0L204.4 424.1L204.0 422.1L203.6 420.2L203.2 418.3L202.9 416.4L202.5 414.4L202.2 412.5L201.9 410.5L201.6 408.6L201.3 406.6L201.0 404.6L200.7 402.6L200.4 400.6L200.2 398.6L199.9 396.6L199.7 394.6L199.5 392.6L199.3 390.6L199.1 388.6L199.0 386.6L198.9 384.6L198.8 382.6L198.8 380.6L198.8 378.6L198.8 376.6L198.8 374.6L198.9 372.6L199.0 370.6L199.1 368.6L199.3 366.6L199.5 364.6L199.7 362.6L199.9 360.6L200.1 358.7L200.4 356.7L200.7 354.7L201.0 352.7L201.3 350.7L201.7 348.8L202.0 346.8L202.4 344.8L202.8 342.9L203.2 340.9L203.6 338.9L204.1 337.0L204.5 335.0L205.0 333.1L205.4 331.1L205.9 329.1L206.4 327.2L206.9 325.2L207.4 323.3L207.9 321.3L208.4 319.4L208.9 317.4L209.4 315.5L209.9 313.6L210.5 311.6L211.0 309.7L211.6 307.8L212.1 305.8L212.7 303.9L213.3 302.0L213.9 300.1L214.5 298.2L215.2 296.3L215.8 294.4L216.5 292.6L217.2 290.7L217.9 288.8L218.7 287.0L219.5 285.2L220.3 283.4L221.1 281.6L222.0 279.8L222.9 278.0L223.9 276.3L224.8 274.5L225.8 272.8L226.9 271.1L227.9 269.4L229.0 267.7L230.2 266.0L231.3 264.4L232.5 262.8L233.7 261.2L234.9 259.6L236.2 258.0L237.5 256.4L238.8 254.9L240.1 253.4L241.5 251.9L242.8 250.4L244.2 248.9L245.6 247.5L247.1 246.0L248.5 244.6L250.0 243.3L251.5 241.9L253.0 240.5L254.5 239.2L256.1 237.9L257.6 236.6L259.2 235.3L260.7 234.1L262.3 232.9L263.9 231.7L265.5 230.5L267.2 229.3L268.8 228.2Z"/>
<path d="M270.3 234.5L272.0 233.4L273.6 232.4L275.3 231.4L277.1 230.3L278.8 229.4L280.5 228.4L282.3 227.4L284.0 226.4L285.8 225.5L287.5 224.6L289.3 223.6L291.1 222.7L292.9 221.8L294.7 220.8L296.5 219.9L298.3 219.0L300.1 218.0L301.9 217.1L303.7 216.2L305.6 215.4L307.4 214.6L309.3 213.8L311.2 213.2L313.1 212.6L315.0 212.0L316.9 211.6L318.8 211.2L320.8 210.9L322.7 210.7L324.7 210.6L326.7 210.6L328.6 210.6L330.6 210.7L332.5 210.9L334.5 211.2L336.4 211.6L338.4 212.1L340.3 212.7L342.2 213.3L344.1 214.1L345.9 214.9L347.8 215.8L349.6 216.8L351.5 217.8L353.3 218.9L355.1 219.9L356.9 221.0L358.7 222.1L360.5 223.1L362.3 224.1L364.1 225.1L365.9 226.0L367.7 226.8L369.5 227.6L371.3 228.2L373.2 228.7L375.0 229.1L376.8 229.4L378.7 229.5L380.5 229.4L382.4 229.2L384.3 228.9L386.2 228.5L388.1 228.0L390.0 227.4L392.0 226.8L393.9 226.1L395.8 225.4L397.8 224.7L399.7 223.9L401.7 223.2L403.7 222.6L405.6 221.9L407.6 221.3L409.6 220.6L411.6 220.1L413.5 219.5L415.5 219.0L417.5 218.6L419.5 218.2L421.4 217.8L423.4 217.5L425.4 217.3L427.3 217.1L429.2 217.0L431.2 216.9L433.1 217.0L435.0 217.1L436.9 217.3L438.8 217.5L440.7 217.9L442.6 218.3L444.5 218.8L446.3 219.4L448.1 220.1L450.0 220.8L451.8 221.5L453.6 222.4L455.4 223.2L457.2 224.1L459.0 225.1L460.8 226.0L462.6 227.0L464.4 228.1L466.1 229.1L467.9 230.2L469.7 231.2L471.4 232.3L473.2 233.4L474.9 234.4L476.7 235.4L478.5 236.5L480.2 237.5L482.0 238.5L483.7 239.4L485.5 240.3L487.2 241.3L489.0 242.2L490.7 243.1L492.4 244.0L494.1 245.0L495.8 246.0L497.5 247.0L499.1 248.0L500.8 249.1L502.4 250.2L503.9 251.3L505.5 252.6L507.0 253.9L508.5 255.2L509.9 256.6L511.3 258.1L512.7 259.6L514.1 261.1L515.5 262.7L516.8 264.2L518.2 265.8L519.5 267.3L520.9 268.8L522.2 270.3L523.5 271.8L524.9 273.3L526.2 274.8L527.5 276.2L528.8 277.7L530.1 279.2L531.4 280.7L532.7 282.2L534.0 283.7L535.3 285.2L536.5 286.7L537.8 288.3L539.0 289.9L540.2 291.5L541.4 293.1L542.6 294.7L543.7 296.4L544.9 298.1L546.0 299.8L547.1 301.6L548.1 303.3L549.1 305.1L550.1 306.9L551.0 308.7L551.8 310.5L552.6 312.4L553.3 314.2L554.0 316.1L554.6 318.0L555.1 319.9L555.5 321.8L555.9 323.7L556.2 325.7L556.3 327.6L556.4 329.6L556.4 331.5L556.3 333.5L556.1 335.4L555.8 337.4L555.4 339.4L554.8 341.3L554.3 343.2L553.6 345.2L552.8 347.0L551.9 348.9L551.0 350.7L550.0 352.5L548.9 354.3L547.7 356.0L546.5 357.7L545.2 359.3L543.8 360.8L542.4 362.3L540.9 363.7L539.4 365.1L537.8 366.3L536.2 367.5L534.5 368.6L532.7 369.7L531.0 370.6L529.1 371.4L527.3 372.1L525.4 372.8L523.5 373.3L521.6 373.6L519.7 373.9L517.7 374.0L515.8 374.0L513.8 373.8L511.9 373.5L509.9 373.0L508.0 372.3L506.0 371.6L504.1 370.7L502.2 369.9L500.3 369.1L498.3 368.4L496.4 367.8L494.5 367.5L492.6 367.2L490.7 367.1L488.8 367.1L486.9 367.2L485.0 367.4L483.1 367.6L481.2 367.9L479.3 368.2L477.4 368.6L475.4 369.0L473.5 369.4L471.6 369.8L469.6 370.3L467.6 370.8L465.7 371.2L463.7 371.7L461.8 372.2L459.8 372.7L457.8 373.2L455.8 373.6L453.9 374.1L451.9 374.5L449.9 375.0L447.9 375.4L445.9 375.7L443.9 376.1L441.9 376.4L440.0 376.6L438.0 376.8L436.0 377.0L434.0 377.1L432.0 377.2L430.0 377.2L428.0 377.2L426.1 377.1L424.1 377.0L422.1 376.8L420.1 376.6L418.2 376.3L416.2 376.0L414.2 375.6L412.3 375.2L410.3 374.8L408.4 374.3L406.5 373.8L404.5 373.3L402.6 372.7L400.7 372.1L398.8 371.5L396.9 370.8L395.0 370.1L393.1 369.4L391.2 368.7L389.3 368.0L387.4 367.3L385.6 366.6L383.7 365.9L381.8 365.3L379.9 364.7L378.0 364.2L376.1 363.7L374.2 363.3L372.3 362.9L370.4 362.7L368.4 362.5L366.5 362.4L364.5 362.4L362.6 362.6L360.6 362.9L358.6 363.2L356.5 363.8L354.5 364.4L352.6 365.1L350.6 365.9L348.7 366.8L346.9 367.7L345.1 368.7L343.4 369.8L341.6 370.9L340.0 372.0L338.3 373.3L336.7 374.5L335.2 375.8L333.6 377.1L332.1 378.4L330.6 379.7L329.2 381.1L327.7 382.5L326.3 383.9L324.9 385.3L323.5 386.7L322.2 388.1L320.8 389.5L319.5 391.0L318.2 392.5L316.9 394.0L315.6 395.5L314.4 397.0L313.1 398.5L311.9 400.0L310.6 401.5L309.4 403.1L308.2 404.6L307.0 406.2L305.8 407.7L304.5 409.3L303.3 410.9L302.1 412.5L301.0 414.0L299.8 415.6L298.6 417.2L297.4 418.8L296.2 420.4L294.9 422.0L293.7 423.6L292.5 425.2L291.3 426.8L290.1 428.4L288.8 430.0L287.6 431.6L286.3 433.2L285.0 434.8L283.7 436.4L282.4 438.0L281.1 439.6L279.8 441.2L278.4 442.8L277.1 444.3L275.7 445.9L274.3 447.4L272.8 449.0L271.4 450.4L269.9 451.9L268.4 453.2L266.8 454.6L265.3 455.8L263.7 457.0L262.0 458.0L260.3 459.0L258.6 459.9L256.9 460.7L255.1 461.3L253.2 461.8L251.3 462.2L249.4 462.4L247.4 462.5L245.4 462.4L243.4 462.2L241.4 461.9L239.4 461.5L237.4 460.9L235.5 460.2L233.6 459.5L231.8 458.6L230.0 457.6L228.4 456.6L226.8 455.5L225.3 454.3L223.9 453.0L222.5 451.6L221.3 450.2L220.1 448.7L218.9 447.2L217.9 445.6L216.9 444.0L215.9 442.3L215.0 440.5L214.2 438.7L213.4 436.9L212.7 435.0L212.0 433.1L211.4 431.2L210.8 429.2L210.2 427.2L209.7 425.2L209.2 423.2L208.8 421.2L208.4 419.1L208.0 417.0L207.6 415.0L207.2 412.9L206.9 410.9L206.6 408.8L206.3 406.7L206.0 404.7L205.7 402.7L205.4 400.7L205.1 398.7L204.8 396.7L204.6 394.7L204.4 392.8L204.1 390.8L203.9 388.9L203.8 386.9L203.6 385.0L203.5 383.1L203.4 381.1L203.3 379.2L203.3 377.3L203.2 375.3L203.3 373.4L203.3 371.4L203.4 369.4L203.6 367.5L203.7 365.5L203.9 363.5L204.2 361.5L204.4 359.5L204.7 357.5L205.0 355.4L205.3 353.4L205.7 351.4L206.0 349.4L206.4 347.4L206.8 345.4L207.2 343.4L207.6 341.4L207.9 339.4L208.3 337.4L208.7 335.4L209.1 333.5L209.5 331.5L209.9 329.6L210.3 327.6L210.7 325.7L211.1 323.7L211.5 321.8L212.0 319.9L212.5 318.0L213.0 316.0L213.5 314.1L214.0 312.2L214.5 310.3L215.1 308.4L215.7 306.5L216.3 304.6L217.0 302.7L217.6 300.8L218.3 298.9L219.1 297.0L219.8 295.1L220.6 293.3L221.4 291.4L222.2 289.6L223.0 287.8L223.9 286.0L224.8 284.2L225.7 282.4L226.7 280.6L227.7 278.9L228.7 277.1L229.7 275.4L230.8 273.7L231.9 272.1L233.0 270.4L234.2 268.8L235.3 267.1L236.5 265.5L237.8 263.9L239.0 262.4L240.3 260.8L241.6 259.3L242.9 257.8L244.3 256.3L245.7 254.9L247.1 253.4L248.5 252.0L249.9 250.6L251.4 249.2L252.9 247.9L254.4 246.6L255.9 245.3L257.4 244.0L259.0 242.7L260.5 241.5L262.1 240.2L263.7 239.1L265.3 237.9L267.0 236.7L268.6 235.6Z"/>
<path d="M269.8 241.6L271.5 240.5L273.2 239.5L274.9 238.4L276.6 237.4L278.4 236.4L280.1 235.5L281.9 234.5L283.7 233.6L285.5 232.7L287.4 231.9L289.2 231.1L291.1 230.3L292.9 229.5L294.8 228.8L296.8 228.1L298.7 227.5L300.6 226.8L302.6 226.3L304.5 225.7L306.5 225.2L308.5 224.7L310.5 224.2L312.5 223.8L314.5 223.4L316.5 223.1L318.6 222.8L320.6 222.6L322.6 222.4L324.6 222.3L326.6 222.3L328.5 222.4L330.5 222.6L332.4 222.9L334.2 223.2L336.1 223.7L337.9 224.3L339.6 225.0L341.3 225.9L343.0 226.9L344.6 228.0L346.1 229.3L347.6 230.6L349.1 232.1L350.6 233.6L352.0 235.2L353.4 236.8L354.8 238.4L356.3 239.9L357.7 241.5L359.2 243.0L360.6 244.4L362.2 245.8L363.7 247.0L365.3 248.1L367.0 249.1L368.7 249.8L370.5 250.5L372.3 251.0L374.2 251.3L376.1 251.5L378.0 251.5L379.9 251.5L381.8 251.3L383.7 251.0L385.6 250.6L387.5 250.0L389.4 249.4L391.2 248.8L393.1 248.0L394.9 247.2L396.8 246.4L398.6 245.6L400.5 244.7L402.4 243.9L404.3 243.1L406.2 242.3L408.1 241.6L410.1 240.9L412.0 240.3L414.0 239.8L416.1 239.3L418.1 238.9L420.1 238.6L422.2 238.4L424.2 238.3L426.2 238.2L428.3 238.3L430.3 238.4L432.2 238.7L434.2 239.0L436.1 239.4L438.0 239.9L439.8 240.6L441.6 241.3L443.4 242.1L445.1 243.0L446.8 244.1L448.4 245.1L450.0 246.3L451.5 247.5L453.0 248.8L454.5 250.2L455.9 251.6L457.2 253.1L458.5 254.7L459.8 256.2L461.0 257.8L462.2 259.5L463.4 261.1L464.7 262.6L466.0 264.1L467.4 265.6L468.8 267.0L470.3 268.3L471.8 269.6L473.4 270.9L474.9 272.2L476.5 273.4L478.1 274.7L479.6 275.9L481.1 277.2L482.7 278.5L484.1 279.8L485.5 281.2L486.9 282.6L488.2 284.1L489.4 285.6L490.5 287.2L491.6 288.8L492.5 290.5L493.3 292.3L494.0 294.1L494.5 296.0L495.0 298.0L495.2 300.0L495.4 302.1L495.4 304.1L495.3 306.1L495.1 308.1L494.7 310.1L494.2 312.1L493.7 314.1L493.0 316.0L492.2 317.8L491.4 319.7L490.4 321.5L489.4 323.2L488.3 324.9L487.1 326.5L485.8 328.1L484.5 329.6L483.2 331.0L481.7 332.4L480.3 333.7L478.7 334.9L477.2 336.1L475.6 337.2L473.9 338.2L472.2 339.2L470.5 340.2L468.8 341.1L467.0 342.0L465.2 342.8L463.3 343.6L461.5 344.4L459.6 345.2L457.7 345.9L455.8 346.6L453.9 347.3L452.0 348.0L450.1 348.6L448.1 349.3L446.2 349.9L444.3 350.6L442.3 351.2L440.4 351.7L438.4 352.3L436.5 352.8L434.5 353.2L432.6 353.7L430.6 354.0L428.6 354.3L426.7 354.6L424.7 354.8L422.8 354.9L420.8 355.0L418.8 355.0L416.9 354.9L414.9 354.7L412.9 354.4L411.0 354.1L409.0 353.7L407.0 353.3L405.1 352.8L403.1 352.3L401.2 351.7L399.2 351.1L397.3 350.5L395.3 349.8L393.4 349.2L391.4 348.6L389.5 348.0L387.5 347.4L385.6 346.8L383.6 346.3L381.7 345.8L379.8 345.3L377.9 344.9L375.9 344.6L374.0 344.4L372.1 344.2L370.2 344.1L368.3 344.1L366.4 344.2L364.5 344.4L362.6 344.8L360.7 345.2L358.8 345.8L356.9 346.6L355.0 347.4L353.2 348.3L351.4 349.3L349.6 350.4L347.8 351.5L346.1 352.7L344.4 354.0L342.8 355.2L341.3 356.5L339.8 357.9L338.3 359.2L336.8 360.6L335.4 362.0L334.1 363.4L332.7 364.8L331.4 366.3L330.1 367.7L328.8 369.2L327.5 370.7L326.3 372.2L325.0 373.8L323.8 375.3L322.6 376.9L321.3 378.5L320.1 380.0L318.8 381.6L317.6 383.2L316.3 384.8L315.0 386.4L313.8 388.0L312.5 389.6L311.3 391.2L310.0 392.9L308.8 394.5L307.5 396.1L306.3 397.7L305.1 399.2L303.9 400.8L302.7 402.4L301.5 404.0L300.3 405.6L299.1 407.1L297.9 408.7L296.7 410.2L295.5 411.8L294.4 413.3L293.2 414.9L292.0 416.4L290.8 418.0L289.6 419.5L288.4 421.1L287.1 422.6L285.9 424.2L284.6 425.7L283.4 427.3L282.1 428.8L280.8 430.4L279.5 431.9L278.2 433.5L276.8 435.1L275.4 436.7L274.0 438.2L272.6 439.8L271.1 441.3L269.6 442.8L268.1 444.2L266.6 445.5L265.0 446.8L263.4 448.0L261.8 449.2L260.1 450.2L258.4 451.1L256.6 451.9L254.8 452.6L253.0 453.1L251.1 453.5L249.2 453.8L247.3 453.8L245.3 453.8L243.3 453.6L241.3 453.2L239.4 452.8L237.5 452.1L235.6 451.4L233.7 450.6L231.9 449.6L230.2 448.5L228.6 447.3L227.1 446.0L225.6 444.7L224.3 443.2L223.2 441.6L222.1 440.0L221.1 438.3L220.2 436.5L219.3 434.7L218.6 432.9L217.9 431.0L217.2 429.1L216.5 427.2L215.9 425.2L215.3 423.3L214.7 421.3L214.1 419.4L213.6 417.4L213.0 415.5L212.5 413.5L212.0 411.5L211.6 409.6L211.1 407.6L210.7 405.6L210.3 403.7L209.9 401.7L209.6 399.7L209.3 397.7L209.0 395.7L208.8 393.8L208.6 391.8L208.4 389.8L208.2 387.8L208.1 385.8L208.1 383.9L208.0 381.9L208.0 379.9L208.0 377.9L208.1 375.9L208.2 374.0L208.3 372.0L208.4 370.0L208.5 368.0L208.7 366.0L208.9 364.0L209.1 362.1L209.3 360.1L209.5 358.1L209.7 356.1L209.9 354.1L210.1 352.1L210.4 350.1L210.6 348.1L210.9 346.1L211.2 344.1L211.5 342.1L211.8 340.1L212.1 338.2L212.4 336.2L212.8 334.2L213.1 332.2L213.5 330.2L213.9 328.3L214.3 326.3L214.8 324.3L215.2 322.4L215.7 320.4L216.2 318.5L216.8 316.6L217.3 314.7L217.9 312.7L218.5 310.8L219.2 308.9L219.8 307.0L220.5 305.2L221.2 303.3L222.0 301.4L222.8 299.6L223.6 297.8L224.4 295.9L225.2 294.1L226.1 292.3L227.0 290.6L227.9 288.8L228.9 287.0L229.8 285.3L230.8 283.6L231.9 281.8L232.9 280.1L234.0 278.5L235.1 276.8L236.2 275.2L237.3 273.5L238.5 271.9L239.7 270.3L240.9 268.7L242.1 267.2L243.4 265.6L244.7 264.1L246.0 262.6L247.3 261.1L248.7 259.7L250.0 258.2L251.4 256.8L252.8 255.4L254.3 254.1L255.7 252.7L257.2 251.4L258.7 250.1L260.3 248.8L261.8 247.5L263.4 246.3L264.9 245.1L266.6 243.9L268.2 242.8Z"/>
<path d="M372.0 297.9L370.8 299.5L369.7 301.1L368.5 302.7L367.4 304.2L366.2 305.8L365.0 307.4L363.8 309.0L362.7 310.6L361.5 312.2L360.3 313.8L359.1 315.4L357.9 317.0L356.7 318.6L355.5 320.2L354.3 321.8L353.1 323.4L351.8 325.0L350.6 326.6L349.4 328.2L348.2 329.8L347.0 331.4L345.8 333.0L344.5 334.6L343.3 336.2L342.1 337.8L340.9 339.5L339.7 341.1L338.4 342.7L337.2 344.3L336.0 345.9L334.8 347.5L333.6 349.1L332.3 350.7L331.1 352.3L329.9 353.9L328.7 355.5L327.5 357.1L326.3 358.8L325.1 360.4L323.9 362.0L322.7 363.6L321.5 365.2L320.3 366.8L319.1 368.4L317.9 370.0L316.8 371.6L315.6 373.2L314.4 374.9L313.3 376.5L312.1 378.1L311.0 379.7L309.8 381.3L308.7 382.9L307.5 384.5L306.4 386.1L305.3 387.8L304.1 389.4L303.0 391.0L301.9 392.6L300.8 394.2L299.6 395.8L298.5 397.4L297.3 399.0L296.2 400.7L295.0 402.3L293.9 403.9L292.7 405.5L291.5 407.1L290.4 408.7L289.2 410.3L287.9 411.9L286.7 413.5L285.5 415.2L284.2 416.8L283.0 418.4L281.7 420.0L280.4 421.6L279.0 423.2L277.7 424.8L276.3 426.4L274.9 428.0L273.5 429.6L272.1 431.1L270.6 432.6L269.1 434.1L267.6 435.5L266.0 436.8L264.4 438.1L262.8 439.2L261.2 440.3L259.5 441.3L257.8 442.1L256.1 442.8L254.3 443.4L252.5 443.9L250.6 444.2L248.7 444.3L246.8 444.3L244.9 444.2L243.0 443.9L241.1 443.4L239.3 442.8L237.5 442.1L235.8 441.2L234.1 440.1L232.6 438.9L231.1 437.6L229.7 436.2L228.3 434.7L227.1 433.1L225.9 431.4L224.8 429.7L223.7 427.9L222.7 426.2L221.8 424.4L221.0 422.5L220.2 420.7L219.4 418.8L218.8 416.9L218.1 415.0L217.6 413.0L217.0 411.1L216.6 409.1L216.1 407.2L215.7 405.2L215.4 403.2L215.1 401.2L214.8 399.2L214.5 397.2L214.3 395.2L214.1 393.2L213.9 391.2L213.8 389.2L213.6 387.2L213.5 385.2L213.5 383.2L213.4 381.2L213.4 379.2L213.3 377.2L213.3 375.1L213.4 373.1L213.4 371.1L213.5 369.1L213.5 367.1L213.6 365.1L213.7 363.1L213.9 361.1L214.0 359.1L214.2 357.2L214.3 355.2L214.5 353.2L214.7 351.2L214.9 349.2L215.2 347.2L215.4 345.2L215.7 343.2L216.0 341.3L216.3 339.3L216.6 337.3L216.9 335.4L217.3 333.4L217.7 331.4L218.1 329.5L218.5 327.5L219.0 325.6L219.4 323.7L219.9 321.8L220.4 319.8L221.0 317.9L221.5 316.0L222.1 314.1L222.7 312.2L223.4 310.4L224.0 308.5L224.7 306.6L225.5 304.8L226.2 302.9L227.0 301.1L227.8 299.3L228.6 297.5L229.5 295.7L230.4 293.9L231.3 292.1L232.3 290.3L233.3 288.6L234.3 286.9L235.3 285.1L236.4 283.4L237.5 281.7L238.7 280.0L239.9 278.4L241.1 276.7L242.3 275.1L243.6 273.5L244.9 271.9L246.2 270.3L247.5 268.8L248.9 267.3L250.3 265.8L251.8 264.3L253.2 262.9L254.7 261.4L256.2 260.1L257.7 258.7L259.3 257.4L260.8 256.0L262.4 254.8L264.0 253.5L265.7 252.3L267.3 251.2L269.0 250.0L270.7 248.9L272.4 247.8L274.1 246.8L275.8 245.8L277.6 244.9L279.4 244.0L281.2 243.1L283.0 242.3L284.8 241.5L286.6 240.8L288.5 240.1L290.3 239.4L292.2 238.8L294.1 238.3L296.0 237.8L297.9 237.3L299.8 236.9L301.7 236.5L303.6 236.2L305.6 236.0L307.5 235.8L309.4 235.7L311.4 235.6L313.4 235.6L315.3 235.6L317.3 235.7L319.3 235.8L321.3 236.0L323.3 236.3L325.2 236.7L327.2 237.1L329.1 237.6L331.0 238.2L332.9 238.8L334.7 239.6L336.4 240.5L338.1 241.5L339.6 242.6L341.1 243.9L342.5 245.2L343.9 246.7L345.1 248.2L346.3 249.9L347.4 251.6L348.5 253.3L349.6 255.1L350.6 257.0L351.5 258.8L352.5 260.7L353.4 262.5L354.3 264.3L355.2 266.2L356.1 268.0L357.0 269.8L357.9 271.7L358.8 273.5L359.6 275.3L360.5 277.1L361.4 278.9L362.3 280.7L363.2 282.4L364.1 284.2L365.0 286.0L366.0 287.7L367.0 289.4L368.0 291.1L369.0 292.8L370.1 294.5L371.1 296.2L372.3 297.8"/>
<path d="M270.1 260.1L271.9 259.0L273.7 258.0L275.6 257.0L277.4 256.0L279.3 255.1L281.2 254.2L283.1 253.4L285.0 252.7L286.9 251.9L288.8 251.3L290.8 250.7L292.7 250.1L294.7 249.7L296.6 249.3L298.5 248.9L300.4 248.7L302.4 248.5L304.3 248.4L306.2 248.3L308.1 248.4L309.9 248.5L311.8 248.7L313.6 249.0L315.4 249.4L317.2 249.9L318.9 250.5L320.6 251.2L322.3 252.0L323.9 252.9L325.5 253.9L327.1 255.1L328.6 256.3L330.1 257.6L331.6 259.1L332.9 260.6L334.3 262.2L335.5 263.9L336.7 265.6L337.9 267.4L338.9 269.3L339.9 271.2L340.8 273.2L341.7 275.1L342.4 277.1L343.1 279.1L343.7 281.2L344.2 283.2L344.6 285.2L344.9 287.2L345.1 289.2L345.3 291.2L345.3 293.1L345.3 295.1L345.2 297.1L345.0 299.0L344.7 300.9L344.4 302.9L344.0 304.8L343.5 306.7L343.0 308.6L342.4 310.4L341.8 312.3L341.1 314.2L340.4 316.0L339.6 317.8L338.8 319.7L337.9 321.5L337.0 323.3L336.0 325.0L335.0 326.8L334.0 328.6L333.0 330.3L331.9 332.0L330.9 333.7L329.8 335.4L328.6 337.1L327.5 338.8L326.4 340.4L325.2 342.0L324.1 343.7L322.9 345.3L321.7 346.9L320.6 348.5L319.4 350.1L318.2 351.6L317.1 353.2L315.9 354.8L314.8 356.5L313.7 358.1L312.5 359.7L311.4 361.4L310.3 363.0L309.3 364.7L308.2 366.4L307.1 368.1L306.1 369.8L305.1 371.6L304.0 373.3L303.0 375.1L302.0 376.8L301.0 378.6L300.0 380.4L299.0 382.2L298.0 383.9L296.9 385.7L295.9 387.5L294.9 389.2L293.9 391.0L292.8 392.7L291.8 394.5L290.7 396.2L289.7 397.9L288.6 399.6L287.5 401.3L286.4 403.0L285.2 404.7L284.1 406.3L282.9 407.9L281.7 409.5L280.5 411.1L279.3 412.6L278.0 414.1L276.7 415.6L275.4 417.1L274.0 418.5L272.6 419.9L271.2 421.2L269.8 422.5L268.3 423.8L266.7 425.0L265.2 426.2L263.6 427.4L261.9 428.5L260.2 429.6L258.5 430.6L256.7 431.5L254.9 432.4L253.1 433.1L251.2 433.6L249.3 434.0L247.5 434.1L245.6 434.0L243.7 433.5L241.8 432.9L239.9 431.9L238.1 430.8L236.4 429.5L234.8 428.1L233.2 426.6L231.8 425.0L230.5 423.3L229.3 421.7L228.2 419.9L227.3 418.2L226.4 416.4L225.6 414.6L224.9 412.7L224.2 410.8L223.7 409.0L223.1 407.1L222.6 405.1L222.2 403.2L221.8 401.3L221.4 399.3L221.0 397.4L220.7 395.4L220.3 393.4L220.1 391.5L219.8 389.5L219.6 387.5L219.4 385.5L219.2 383.5L219.0 381.6L218.9 379.6L218.8 377.6L218.7 375.6L218.7 373.6L218.7 371.5L218.7 369.5L218.7 367.5L218.7 365.5L218.8 363.5L218.9 361.5L219.0 359.5L219.1 357.5L219.3 355.5L219.5 353.5L219.7 351.5L219.9 349.5L220.1 347.5L220.4 345.5L220.7 343.5L221.0 341.5L221.3 339.5L221.7 337.5L222.0 335.6L222.4 333.6L222.8 331.6L223.2 329.7L223.7 327.7L224.1 325.8L224.6 323.8L225.1 321.9L225.7 320.0L226.2 318.1L226.8 316.2L227.4 314.3L228.1 312.4L228.8 310.6L229.5 308.7L230.2 306.9L231.0 305.1L231.8 303.2L232.7 301.5L233.6 299.7L234.5 297.9L235.4 296.2L236.4 294.5L237.5 292.8L238.5 291.1L239.6 289.4L240.8 287.8L241.9 286.1L243.1 284.5L244.4 282.9L245.6 281.4L246.9 279.9L248.3 278.3L249.6 276.9L251.0 275.4L252.5 274.0L253.9 272.6L255.4 271.2L256.9 269.8L258.5 268.5L260.1 267.2L261.7 265.9L263.3 264.7L265.0 263.5L266.7 262.3L268.4 261.2Z"/>
<path d="M269.9 271.8L271.7 270.9L273.6 270.0L275.5 269.2L277.5 268.4L279.5 267.7L281.5 267.1L283.5 266.5L285.5 266.0L287.5 265.6L289.5 265.2L291.6 265.0L293.6 264.8L295.6 264.7L297.5 264.7L299.5 264.8L301.4 265.0L303.3 265.2L305.2 265.6L307.0 266.1L308.8 266.7L310.5 267.4L312.1 268.2L313.7 269.2L315.2 270.2L316.7 271.4L318.1 272.7L319.3 274.1L320.6 275.7L321.7 277.3L322.7 279.1L323.6 280.9L324.5 282.8L325.3 284.8L325.9 286.8L326.5 288.9L327.0 290.9L327.3 293.0L327.6 295.1L327.8 297.2L327.8 299.3L327.8 301.4L327.6 303.4L327.4 305.4L327.0 307.4L326.6 309.4L326.1 311.3L325.6 313.2L325.0 315.1L324.3 316.9L323.6 318.8L322.9 320.7L322.1 322.5L321.3 324.3L320.5 326.2L319.7 328.0L318.9 329.8L318.0 331.6L317.1 333.4L316.3 335.2L315.4 337.0L314.5 338.8L313.5 340.6L312.6 342.4L311.7 344.1L310.7 345.9L309.8 347.7L308.8 349.4L307.8 351.2L306.8 352.9L305.9 354.7L304.9 356.4L303.9 358.2L302.9 359.9L301.9 361.7L300.9 363.4L299.9 365.1L298.9 366.9L297.9 368.6L296.9 370.3L295.9 372.0L294.9 373.7L294.0 375.5L293.0 377.2L292.0 378.9L291.0 380.6L290.1 382.3L289.1 384.0L288.2 385.7L287.2 387.4L286.2 389.1L285.3 390.9L284.3 392.6L283.2 394.3L282.2 396.0L281.1 397.7L280.0 399.4L278.8 401.2L277.6 402.9L276.4 404.6L275.1 406.3L273.7 408.0L272.3 409.6L270.9 411.2L269.4 412.7L267.8 414.1L266.2 415.4L264.6 416.6L262.9 417.6L261.2 418.5L259.4 419.3L257.6 419.9L255.7 420.3L253.8 420.5L251.9 420.6L250.0 420.5L248.1 420.2L246.3 419.8L244.5 419.3L242.8 418.5L241.2 417.7L239.6 416.7L238.2 415.5L236.8 414.2L235.6 412.8L234.4 411.3L233.2 409.7L232.2 408.0L231.2 406.3L230.4 404.4L229.6 402.5L228.8 400.6L228.2 398.5L227.6 396.5L227.1 394.4L226.6 392.3L226.2 390.2L225.9 388.2L225.6 386.1L225.4 384.0L225.2 381.9L225.1 379.9L225.1 377.9L225.1 375.9L225.1 374.0L225.1 372.0L225.2 370.1L225.3 368.1L225.4 366.2L225.5 364.3L225.7 362.3L225.8 360.4L225.9 358.4L226.0 356.4L226.1 354.5L226.1 352.5L226.2 350.4L226.3 348.4L226.3 346.4L226.4 344.4L226.5 342.3L226.6 340.3L226.7 338.3L226.9 336.3L227.2 334.3L227.5 332.3L227.9 330.3L228.3 328.4L228.8 326.4L229.3 324.5L229.9 322.6L230.6 320.8L231.3 318.9L232.0 317.1L232.8 315.2L233.6 313.4L234.5 311.6L235.4 309.8L236.3 308.1L237.3 306.3L238.3 304.6L239.3 302.9L240.3 301.2L241.4 299.5L242.5 297.8L243.6 296.1L244.8 294.5L246.0 292.9L247.2 291.3L248.5 289.8L249.7 288.3L251.1 286.8L252.4 285.3L253.8 283.9L255.2 282.5L256.7 281.1L258.2 279.8L259.8 278.6L261.3 277.3L263.0 276.1L264.6 275.0L266.4 273.9L268.1 272.8Z"/>
<path d="M289.6 284.1L287.6 283.9L285.6 283.9L283.6 284.0L281.6 284.3L279.7 284.6L277.8 285.1L275.9 285.8L274.0 286.5L272.2 287.4L270.4 288.3L268.7 289.3L267.0 290.5L265.3 291.7L263.7 292.9L262.1 294.3L260.6 295.7L259.1 297.1L257.6 298.7L256.2 300.2L254.9 301.8L253.6 303.4L252.4 305.1L251.2 306.8L250.1 308.5L249.0 310.2L248.0 311.9L247.1 313.6L246.2 315.4L245.3 317.1L244.5 318.9L243.7 320.7L243.0 322.5L242.3 324.4L241.6 326.2L241.0 328.1L240.4 330.0L239.9 331.8L239.3 333.7L238.8 335.7L238.4 337.6L237.9 339.5L237.5 341.5L237.0 343.4L236.6 345.4L236.2 347.4L235.9 349.4L235.5 351.4L235.1 353.4L234.8 355.4L234.5 357.4L234.1 359.4L233.9 361.5L233.6 363.5L233.4 365.6L233.2 367.6L233.0 369.6L232.9 371.7L232.9 373.7L232.9 375.7L233.0 377.8L233.2 379.8L233.4 381.8L233.7 383.8L234.2 385.7L234.7 387.7L235.2 389.7L235.9 391.6L236.8 393.5L237.7 395.4L238.7 397.2L239.8 398.9L241.0 400.6L242.3 402.1L243.6 403.5L245.1 404.7L246.6 405.7L248.1 406.5L249.8 407.1L251.5 407.4L253.2 407.5L255.0 407.3L256.8 406.8L258.6 406.1L260.5 405.2L262.3 404.2L264.0 403.0L265.7 401.7L267.3 400.3L268.9 398.8L270.3 397.3L271.7 395.7L273.0 394.1L274.3 392.5L275.5 390.8L276.6 389.1L277.7 387.4L278.8 385.7L279.8 383.9L280.9 382.2L281.9 380.4L282.9 378.7L283.8 376.9L284.8 375.2L285.8 373.4L286.7 371.7L287.6 369.9L288.5 368.2L289.4 366.4L290.3 364.6L291.2 362.9L292.1 361.1L293.0 359.3L293.8 357.5L294.7 355.7L295.5 353.9L296.3 352.1L297.1 350.3L298.0 348.5L298.8 346.6L299.6 344.8L300.4 342.9L301.2 341.1L301.9 339.2L302.7 337.3L303.4 335.4L304.1 333.5L304.8 331.6L305.4 329.7L306.0 327.7L306.5 325.8L307.0 323.8L307.5 321.8L307.9 319.9L308.2 317.9L308.5 315.8L308.7 313.8L308.9 311.8L308.9 309.7L308.9 307.7L308.8 305.6L308.6 303.6L308.3 301.5L307.9 299.6L307.4 297.7L306.7 295.9L305.9 294.1L304.9 292.5L303.8 291.0L302.5 289.6L301.0 288.3L299.3 287.2L297.5 286.3L295.6 285.5L293.6 284.9L291.6 284.4Z"/>
<path d="M375.3 298.0L376.1 296.0L377.0 294.1L378.0 292.3L379.1 290.6L380.2 288.9L381.4 287.4L382.7 285.9L384.1 284.5L385.5 283.1L387.0 281.9L388.6 280.7L390.2 279.6L391.9 278.6L393.6 277.6L395.4 276.7L397.3 275.9L399.1 275.2L401.1 274.5L403.1 274.0L405.1 273.4L407.1 273.0L409.2 272.7L411.2 272.4L413.3 272.3L415.4 272.2L417.4 272.3L419.5 272.5L421.5 272.8L423.4 273.2L425.4 273.7L427.2 274.4L429.0 275.2L430.7 276.2L432.3 277.3L433.7 278.6L435.1 280.0L436.3 281.5L437.3 283.1L438.2 284.9L438.9 286.7L439.5 288.7L439.9 290.7L440.1 292.7L440.2 294.8L440.1 296.8L439.8 298.9L439.4 300.9L438.8 302.9L438.1 304.8L437.2 306.7L436.1 308.4L435.0 310.1L433.7 311.6L432.3 313.1L430.8 314.4L429.2 315.6L427.5 316.6L425.8 317.5L424.0 318.3L422.1 318.9L420.2 319.3L418.3 319.6L416.3 319.7L414.3 319.7L412.3 319.6L410.3 319.4L408.3 319.0L406.3 318.6L404.3 318.1L402.3 317.5L400.4 316.9L398.4 316.1L396.5 315.4L394.7 314.5L392.8 313.6L391.0 312.6L389.3 311.6L387.6 310.5L386.0 309.4L384.4 308.2L382.8 306.9L381.4 305.6L380.0 304.2L378.7 302.8L377.4 301.3L376.2 299.7L375.1 298.1"/>
<path d="M274.5 309.8L276.0 310.2L277.5 310.9L278.9 311.8L280.2 313.0L281.5 314.3L282.6 315.9L283.7 317.6L284.6 319.6L285.5 321.7L286.2 324.0L286.8 326.5L287.2 329.0L287.6 331.7L287.8 334.5L287.9 337.4L287.8 340.4L287.6 343.4L287.3 346.4L286.8 349.4L286.3 352.4L285.6 355.4L284.7 358.4L283.8 361.3L282.8 364.1L281.6 366.8L280.4 369.4L279.0 371.9L277.6 374.2L276.2 376.4L274.6 378.4L273.0 380.2L271.4 381.8L269.8 383.2L268.1 384.4L266.4 385.3L264.7 386.1L263.0 386.6L261.4 386.8L259.7 386.9L258.1 386.6L256.6 386.2L255.1 385.5L253.7 384.6L252.4 383.4L251.1 382.1L250.0 380.5L248.9 378.8L248.0 376.8L247.1 374.7L246.4 372.4L245.8 369.9L245.4 367.4L245.0 364.7L244.8 361.9L244.7 359.0L244.8 356.0L245.0 353.0L245.3 350.0L245.8 347.0L246.3 344.0L247.0 341.0L247.9 338.0L248.8 335.1L249.8 332.3L251.0 329.6L252.2 327.0L253.6 324.5L255.0 322.2L256.4 320.0L258.0 318.0L259.6 316.2L261.2 314.6L262.8 313.2L264.5 312.0L266.2 311.1L267.9 310.3L269.6 309.8L271.2 309.6L272.9 309.5Z"/>
<path d="M596.9 415.5L598.7 415.6L600.4 416.1L602.0 417.0L603.6 418.2L605.0 419.6L606.3 421.3L607.5 423.1L608.4 425.0L609.1 427.0L609.6 429.0L609.8 431.1L609.8 433.1L609.6 435.0L609.2 437.0L608.6 439.0L608.0 441.0L607.3 443.0L606.5 445.0L605.6 446.9L604.6 448.6L603.3 450.2L601.8 451.5L600.1 452.4L598.2 453.0L596.2 453.3L594.4 453.1L592.7 452.5L591.1 451.7L589.6 450.5L588.3 449.0L587.2 447.4L586.2 445.6L585.3 443.6L584.6 441.6L584.1 439.5L583.7 437.4L583.5 435.4L583.4 433.4L583.6 431.4L584.0 429.4L584.5 427.5L585.3 425.6L586.2 423.7L587.4 421.9L588.8 420.2L590.2 418.7L591.8 417.4L593.5 416.4L595.2 415.7Z"/>
<path d="M685.1 382.2L687.1 382.4L689.1 382.7L691.1 383.4L693.0 384.3L694.8 385.4L696.4 386.8L697.7 388.3L698.9 390.0L699.9 391.9L700.7 393.8L701.4 395.7L702.0 397.7L702.4 399.7L702.8 401.6L703.0 403.6L703.2 405.5L703.2 407.5L703.2 409.4L703.1 411.3L702.9 413.3L702.6 415.2L702.3 417.1L701.9 419.1L701.4 421.0L700.9 423.0L700.4 424.9L699.8 426.9L699.2 428.9L698.5 430.9L697.8 432.9L697.0 434.9L696.1 436.8L695.2 438.7L694.2 440.5L693.1 442.2L692.0 443.9L690.7 445.4L689.4 446.9L688.0 448.2L686.4 449.3L684.8 450.4L683.0 451.2L681.2 451.9L679.3 452.2L677.5 452.2L675.7 451.8L674.0 451.1L672.5 450.0L671.1 448.7L669.8 447.2L668.8 445.4L668.0 443.6L667.3 441.6L666.8 439.5L666.3 437.3L666.0 435.2L665.7 433.1L665.5 431.0L665.2 428.9L665.1 426.9L664.9 425.0L664.8 423.0L664.8 421.1L664.8 419.2L664.9 417.3L665.0 415.4L665.2 413.5L665.4 411.6L665.7 409.6L666.1 407.7L666.6 405.7L667.1 403.7L667.7 401.7L668.4 399.6L669.1 397.6L670.0 395.6L670.9 393.7L671.9 391.8L673.0 390.1L674.2 388.5L675.5 387.0L676.8 385.6L678.3 384.5L679.9 383.6L681.5 382.9L683.3 382.4Z"/>
<path d="M672.1 547.4L673.9 547.6L675.7 548.2L677.5 549.1L679.1 550.4L680.6 551.9L681.8 553.5L682.8 555.3L683.7 557.1L684.3 559.1L684.8 561.1L685.2 563.2L685.4 565.2L685.6 567.3L685.6 569.3L685.7 571.3L685.7 573.2L685.6 575.1L685.4 577.1L685.3 579.0L685.0 580.9L684.7 582.8L684.4 584.7L684.0 586.6L683.6 588.6L683.2 590.6L682.6 592.6L682.1 594.6L681.5 596.6L680.8 598.5L680.0 600.5L679.2 602.4L678.3 604.2L677.4 606.0L676.3 607.8L675.2 609.4L673.9 610.9L672.6 612.4L671.1 613.7L669.6 614.9L667.9 616.0L666.2 616.9L664.3 617.6L662.4 618.1L660.5 618.3L658.7 618.1L657.0 617.6L655.5 616.7L654.1 615.4L653.0 614.0L652.1 612.4L651.4 610.6L651.0 608.7L650.7 606.7L650.5 604.6L650.5 602.5L650.5 600.3L650.7 598.1L650.8 595.9L651.0 593.8L651.1 591.6L651.3 589.5L651.5 587.5L651.7 585.5L651.9 583.5L652.1 581.5L652.3 579.6L652.6 577.6L653.0 575.8L653.3 573.9L653.8 572.0L654.3 570.2L654.8 568.4L655.5 566.6L656.2 564.8L657.0 563.0L657.9 561.2L658.8 559.4L659.9 557.6L661.1 555.8L662.4 554.1L663.8 552.4L665.3 550.8L666.9 549.5L668.6 548.4L670.3 547.7Z"/>
<path d="M750.5 566.1L752.4 566.1L754.4 566.4L756.4 566.8L758.4 567.4L760.5 568.0L762.6 568.7L764.7 569.3L766.8 569.9L768.9 570.2L770.9 570.4L772.8 570.3L774.6 569.9L776.4 569.2L778.0 568.1L779.7 566.9L781.3 565.7L783.0 564.5L784.7 563.4L786.6 562.6L788.4 562.0L790.3 561.9L792.1 562.1L793.9 562.8L795.5 563.8L797.0 565.1L798.3 566.7L799.3 568.4L800.1 570.3L800.6 572.2L800.9 574.3L800.9 576.3L800.8 578.4L800.4 580.5L799.8 582.5L798.9 584.4L797.9 586.2L796.7 587.9L795.4 589.4L793.8 590.7L792.2 592.0L790.5 593.2L788.8 594.3L787.1 595.4L785.5 596.6L784.0 597.8L782.5 599.1L781.1 600.4L779.7 601.8L778.5 603.2L777.2 604.6L776.1 606.2L775.0 607.7L773.9 609.4L772.9 611.0L771.9 612.8L771.0 614.5L770.1 616.4L769.2 618.2L768.4 620.1L767.5 622.1L766.7 624.0L765.8 625.9L764.9 627.8L764.0 629.7L763.1 631.6L762.1 633.4L761.1 635.2L760.1 636.9L758.9 638.5L757.7 640.1L756.5 641.5L755.1 642.9L753.7 644.1L752.1 645.3L750.4 646.2L748.7 647.1L746.8 647.7L744.7 648.2L742.6 648.6L740.5 648.6L738.5 648.4L736.6 647.9L735.0 647.0L733.7 645.8L732.6 644.3L731.6 642.6L730.9 640.7L730.2 638.7L729.7 636.7L729.1 634.6L728.7 632.6L728.3 630.6L727.9 628.5L727.6 626.5L727.3 624.5L727.1 622.5L726.9 620.5L726.8 618.5L726.7 616.5L726.7 614.5L726.8 612.5L726.8 610.5L727.0 608.5L727.2 606.6L727.4 604.6L727.7 602.6L728.1 600.7L728.5 598.8L728.9 596.8L729.4 594.9L730.0 593.0L730.6 591.0L731.3 589.1L732.0 587.2L732.8 585.3L733.6 583.4L734.5 581.5L735.5 579.7L736.5 577.8L737.6 576.0L738.7 574.3L739.9 572.6L741.2 571.1L742.5 569.8L744.0 568.6L745.5 567.6L747.1 566.8L748.7 566.3Z"/>
<path d="M514.4 634.1L515.6 634.6L516.6 635.8L517.4 637.4L518.2 639.4L518.8 641.6L519.4 644.0L519.8 646.5L520.2 648.9L520.5 651.2L520.8 653.4L521.0 655.5L521.2 657.5L521.3 659.5L521.3 661.4L521.3 663.3L521.2 665.1L521.1 667.0L520.9 668.9L520.7 670.8L520.5 672.7L520.2 674.6L519.9 676.5L519.5 678.5L519.1 680.5L518.7 682.4L518.2 684.4L517.7 686.4L517.3 688.4L516.8 690.4L516.2 692.3L515.7 694.3L515.2 696.3L514.6 698.2L514.1 700.2L513.5 702.1L512.9 704.0L512.4 705.9L511.8 707.8L511.1 709.7L510.5 711.5L509.9 713.4L509.2 715.2L508.5 717.1L507.7 718.9L507.0 720.7L506.2 722.5L505.4 724.3L504.5 726.1L503.6 727.9L502.7 729.7L501.7 731.4L500.7 733.2L499.7 735.0L498.6 736.7L497.5 738.4L496.3 740.2L495.0 741.9L493.7 743.6L492.4 745.3L491.0 747.0L489.5 748.4L488.1 749.7L486.5 750.5L485.0 750.9L483.4 750.8L481.8 750.0L480.2 748.9L478.7 747.3L477.2 745.6L476.0 743.6L474.8 741.7L473.9 739.7L473.0 737.7L472.4 735.8L471.9 733.8L471.4 731.9L471.1 729.9L470.9 727.9L470.8 726.0L470.8 724.0L470.8 722.0L470.8 720.0L470.9 718.1L471.0 716.1L471.2 714.1L471.4 712.1L471.7 710.1L472.0 708.1L472.3 706.1L472.7 704.2L473.1 702.2L473.5 700.2L474.0 698.3L474.5 696.3L475.1 694.3L475.6 692.4L476.2 690.5L476.9 688.6L477.5 686.7L478.2 684.8L478.9 682.9L479.7 681.0L480.4 679.2L481.2 677.4L482.0 675.6L482.8 673.8L483.7 672.0L484.5 670.3L485.4 668.5L486.3 666.8L487.3 665.1L488.2 663.4L489.2 661.8L490.3 660.1L491.3 658.4L492.4 656.8L493.5 655.1L494.7 653.5L495.9 651.9L497.1 650.3L498.4 648.6L499.7 647.0L501.1 645.4L502.5 643.8L503.9 642.1L505.4 640.5L507.0 638.9L508.6 637.3L510.1 635.9L511.7 634.8L513.1 634.2Z"/>
<path d="M592.9 644.9L594.8 645.0L596.7 645.6L598.6 646.4L600.4 647.5L602.1 648.9L603.8 650.4L605.2 652.1L606.5 653.8L607.6 655.5L608.5 657.4L609.3 659.2L609.9 661.1L610.4 663.1L610.8 665.1L611.1 667.0L611.3 669.1L611.3 671.1L611.4 673.1L611.3 675.1L611.2 677.1L611.0 679.1L610.8 681.1L610.5 683.2L610.2 685.2L609.8 687.2L609.4 689.2L609.0 691.2L608.6 693.1L608.2 695.1L607.8 697.1L607.3 699.0L606.9 701.0L606.5 702.9L606.0 704.8L605.6 706.7L605.1 708.7L604.7 710.6L604.2 712.4L603.7 714.3L603.2 716.2L602.7 718.1L602.1 720.0L601.5 721.8L600.9 723.7L600.3 725.6L599.7 727.5L599.0 729.3L598.3 731.2L597.6 733.1L596.8 735.0L596.0 736.8L595.2 738.7L594.3 740.6L593.3 742.5L592.4 744.4L591.4 746.3L590.3 748.2L589.2 750.2L588.1 752.1L586.9 753.9L585.6 755.7L584.3 757.2L582.9 758.6L581.4 759.6L579.9 760.3L578.2 760.6L576.5 760.5L574.8 759.9L573.1 759.0L571.5 757.8L570.0 756.4L568.7 754.9L567.6 753.2L566.7 751.4L565.9 749.5L565.2 747.5L564.7 745.4L564.2 743.3L563.9 741.2L563.6 739.1L563.3 737.0L563.1 735.0L562.9 732.9L562.8 730.9L562.7 728.8L562.7 726.8L562.7 724.8L562.7 722.8L562.8 720.9L562.9 718.9L563.0 716.9L563.1 715.0L563.3 713.0L563.5 711.1L563.8 709.1L564.0 707.2L564.3 705.2L564.6 703.3L564.9 701.4L565.3 699.4L565.6 697.5L566.0 695.5L566.4 693.6L566.8 691.6L567.2 689.7L567.6 687.7L568.0 685.7L568.5 683.7L568.9 681.7L569.4 679.7L569.9 677.8L570.5 675.8L571.0 673.8L571.6 671.9L572.3 670.0L573.0 668.0L573.7 666.2L574.5 664.3L575.4 662.5L576.3 660.7L577.2 658.9L578.3 657.2L579.4 655.6L580.6 653.9L581.8 652.4L583.2 650.8L584.6 649.4L586.1 648.0L587.7 646.8L589.4 645.8L591.1 645.2Z"/>
<path d="M589.8 680.7L591.3 681.4L592.6 682.7L593.8 684.4L594.7 686.5L595.3 688.5L595.7 690.6L595.8 692.6L595.7 694.6L595.5 696.7L595.1 698.7L594.7 700.7L594.2 702.7L593.6 704.8L593.0 706.8L592.2 708.7L591.4 710.7L590.4 712.6L589.3 714.3L588.0 716.0L586.6 717.6L585.0 718.9L583.5 719.8L582.0 720.0L580.7 719.6L579.5 718.4L578.6 716.7L577.8 714.7L577.3 712.5L576.9 710.4L576.7 708.3L576.7 706.2L576.8 704.1L577.0 702.0L577.4 700.0L577.8 698.0L578.3 696.0L578.8 694.1L579.4 692.1L580.2 690.3L581.1 688.4L582.2 686.6L583.5 684.8L584.9 683.2L586.5 681.8L588.2 680.9Z"/>
<path d="M646.6 733.6L648.7 733.5L650.7 733.7L652.7 734.3L654.4 735.2L655.9 736.5L656.9 738.1L657.7 740.0L658.2 742.0L658.5 744.1L658.6 746.3L658.6 748.4L658.4 750.4L658.1 752.4L657.8 754.4L657.3 756.3L656.8 758.2L656.2 760.1L655.5 761.9L654.8 763.7L654.1 765.4L653.4 767.2L652.5 768.9L651.6 770.6L650.5 772.2L649.2 773.8L647.8 775.4L646.2 776.9L644.4 778.4L642.5 779.7L640.6 780.7L638.7 781.4L636.8 781.7L635.1 781.5L633.5 780.9L632.0 780.0L630.7 778.7L629.6 777.2L628.6 775.5L627.8 773.7L627.1 771.7L626.6 769.7L626.4 767.6L626.3 765.6L626.4 763.6L626.7 761.7L627.2 759.8L627.8 757.9L628.5 756.1L629.3 754.2L630.2 752.4L631.1 750.5L632.0 748.6L633.0 746.7L634.0 744.9L635.1 743.0L636.2 741.3L637.4 739.6L638.6 738.1L640.0 736.7L641.5 735.6L643.1 734.6L644.8 734.0Z"/>
<path d="M710.8 703.4L712.7 703.6L714.5 704.1L716.2 704.7L717.9 705.5L719.6 706.5L721.3 707.5L722.9 708.7L724.5 710.0L726.1 711.3L727.6 712.8L729.1 714.3L730.6 715.8L732.0 717.3L733.4 718.8L734.8 720.4L736.2 721.9L737.5 723.3L738.8 724.6L740.3 725.7L741.8 726.5L743.4 727.1L745.2 727.3L747.2 727.3L749.2 726.9L751.4 726.5L753.5 725.9L755.7 725.3L757.8 724.8L759.9 724.4L761.8 724.3L763.5 724.4L765.1 724.9L766.4 725.8L767.5 727.2L768.4 728.9L769.1 730.9L769.6 733.1L770.0 735.4L770.3 737.8L770.5 740.1L770.6 742.3L770.7 744.4L770.8 746.5L770.8 748.4L770.7 750.4L770.6 752.3L770.6 754.2L770.5 756.0L770.4 757.9L770.3 759.8L770.2 761.8L770.1 763.7L770.0 765.7L769.9 767.7L769.7 769.7L769.5 771.7L769.1 773.7L768.7 775.6L768.2 777.6L767.5 779.4L766.8 781.3L765.8 783.1L764.8 784.8L763.6 786.5L762.3 788.1L761.0 789.7L759.5 791.1L757.9 792.4L756.3 793.7L754.6 794.8L752.9 795.8L751.1 796.7L749.2 797.5L747.4 798.2L745.5 798.8L743.5 799.2L741.5 799.6L739.6 799.8L737.6 800.0L735.6 800.0L733.5 799.9L731.5 799.8L729.5 799.5L727.5 799.1L725.6 798.7L723.6 798.1L721.7 797.5L719.8 796.8L718.0 796.0L716.2 795.1L714.4 794.1L712.7 793.0L711.1 791.9L709.5 790.6L708.0 789.3L706.5 788.0L705.1 786.5L703.8 785.1L702.4 783.6L701.2 782.0L699.9 780.5L698.7 778.9L697.4 777.3L696.3 775.7L695.1 774.1L694.0 772.4L692.9 770.8L691.8 769.1L690.8 767.4L689.8 765.7L688.8 764.0L687.9 762.2L687.0 760.5L686.2 758.7L685.4 756.8L684.7 755.0L684.0 753.1L683.4 751.2L682.8 749.3L682.4 747.4L681.9 745.4L681.6 743.4L681.3 741.5L681.1 739.5L681.0 737.5L681.0 735.5L681.1 733.5L681.3 731.6L681.6 729.6L682.0 727.7L682.5 725.8L683.1 723.9L683.9 722.0L684.8 720.2L685.8 718.5L686.9 716.7L688.2 715.0L689.6 713.4L691.1 711.9L692.7 710.5L694.3 709.1L696.0 707.9L697.8 706.8L699.6 705.8L701.5 705.0L703.3 704.3L705.2 703.8L707.1 703.5L709.0 703.3Z"/>
<path d="M903.7 651.2L902.4 651.8L901.2 653.1L900.1 655.0L899.1 657.1L898.2 659.3L897.4 661.5L896.8 663.6L896.5 665.7L896.5 667.8L896.8 669.8L897.5 671.5L898.6 672.8L900.1 673.4L901.9 673.4L903.7 672.8L905.3 671.8L906.8 670.3L907.9 668.5L908.8 666.3L909.3 664.0L909.4 661.5L909.1 659.0L908.4 656.5L907.4 654.3L906.3 652.6L905.0 651.5Z"/>
<ellipse cx="494.5" cy="699" rx="1.2" ry="3" />
<path d="M721 780 Q727 775.5 733 780"/>
</g>
<defs><clipPath id="bm"><ellipse cx="187.3" cy="649.8" rx="21.4" ry="43.3" transform="rotate(9.5 187.3 649.8)"/></clipPath></defs>
<g clip-path="url(#bm)"><path d="M160 611.30H215M160 615.24H215M160 619.18H215M160 623.12H215M160 627.06H215M160 631.00H215M160 634.94H215M160 638.88H215M160 642.82H215M160 646.76H215M160 650.70H215M160 654.64H215M160 658.58H215M160 662.52H215M160 666.46H215M160 670.40H215M160 674.34H215M160 678.28H215M160 682.22H215M160 686.16H215M160 690.10H215" stroke="#f8f12e" stroke-width="1.15" fill="none"/></g>
<ellipse cx="187.3" cy="649.8" rx="21.4" ry="43.3" transform="rotate(9.5 187.3 649.8)" fill="none" stroke="#f8f12e" stroke-width="1.3"/>
</g>
<path d="M121.8 0.5H901.5V779.8H121.8Z" stroke="#cc2c18" stroke-width="0.55" fill="none"/>
<path d="M121.8 0.5H901.5" stroke="#cc2c18" stroke-width="0.8" fill="none"/>
<path d="M132.3 0.5V16.0M132.3 779.8V764.3M262.9 0.5V16.0M262.9 779.8V764.3M393.4 0.5V16.0M393.4 779.8V764.3M524.0 0.5V16.0M524.0 779.8V764.3M654.5 0.5V16.0M654.5 779.8V764.3M785.0 0.5V16.0M785.0 779.8V764.3M121.8 89.0H137.3M901.5 89.0H886.0M121.8 219.4H137.3M901.5 219.4H886.0M121.8 349.8H137.3M901.5 349.8H886.0M121.8 480.2H137.3M901.5 480.2H886.0M121.8 610.6H137.3M901.5 610.6H886.0M121.8 741.0H137.3M901.5 741.0H886.0" stroke="#cc2c18" stroke-width="0.7" fill="none"/>
<g fill="#cc2c18" stroke="#cc2c18">
<text transform="translate(132.1,835.0) scale(1,1.06)" text-anchor="middle">0.5</text>
<text transform="translate(262.7,835.0) scale(1,1.06)" text-anchor="middle">0.0</text>
<text transform="translate(393.2,835.0) scale(1,1.06)" text-anchor="middle">-0.5</text>
<text transform="translate(523.8,835.0) scale(1,1.06)" text-anchor="middle">-1.0</text>
<text transform="translate(654.3,835.0) scale(1,1.06)" text-anchor="middle">-1.5</text>
<text transform="translate(784.8,835.0) scale(1,1.06)" text-anchor="middle">-2.0</text>
<text transform="translate(110.0,104.3) scale(1,1.06)" text-anchor="end">1.0</text>
<text transform="translate(110.0,234.7) scale(1,1.06)" text-anchor="end">0.5</text>
<text transform="translate(110.0,365.1) scale(1,1.06)" text-anchor="end">0.0</text>
<text transform="translate(110.0,495.5) scale(1,1.06)" text-anchor="end">-0.5</text>
<text transform="translate(110.0,625.9) scale(1,1.06)" text-anchor="end">-1.0</text>
<text transform="translate(110.0,756.3) scale(1,1.06)" text-anchor="end">-1.5</text>
<text transform="translate(511.0,883.0) scale(1,1.06)" text-anchor="middle">RA (mas)</text>
<text transform="translate(23.5,391.0) rotate(-90) scale(1,1.06)" text-anchor="middle">Dec (mas)</text>
</g>
<g fill="#f8f12e" stroke="#f8f12e">
<text transform="translate(134.5,79.0) scale(1,1.06)" text-anchor="start">OJ287</text>
<text transform="translate(510.5,79.0) scale(1,1.06)" text-anchor="start">20 Jan 14</text>
</g>
</svg></body></html>
